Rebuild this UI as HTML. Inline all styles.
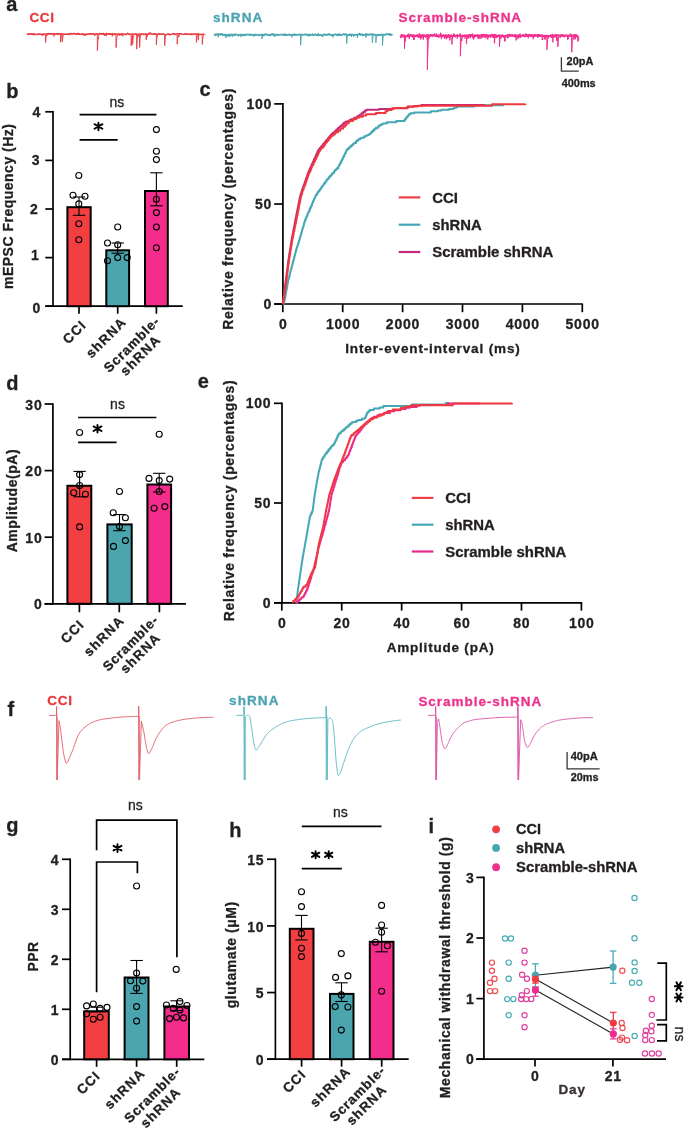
<!DOCTYPE html>
<html><head><meta charset="utf-8"><style>
html,body{margin:0;padding:0;background:#fff;}
svg{display:block;font-family:"Liberation Sans",sans-serif;will-change:transform;}
</style></head><body>
<svg width="685" height="1128" viewBox="0 0 685 1128">
<rect width="685" height="1128" fill="#fff"/>
<text x="6.2" y="11.4" font-size="20" font-weight="bold" fill="#231f20" text-anchor="start" stroke="#231f20" stroke-width="0.3" >a</text>
<text x="29.4" y="22.3" font-size="13.5" font-weight="bold" fill="#e8383d" text-anchor="start" stroke="#e8383d" stroke-width="0.3" textLength="24.6" lengthAdjust="spacing" >CCI</text>
<text x="213" y="22.3" font-size="13.5" font-weight="bold" fill="#4aa3b0" text-anchor="start" stroke="#4aa3b0" stroke-width="0.3" textLength="49.2" lengthAdjust="spacing" >shRNA</text>
<text x="398.5" y="22.3" font-size="13.5" font-weight="bold" fill="#ec338c" text-anchor="start" stroke="#ec338c" stroke-width="0.3" textLength="122.6" lengthAdjust="spacing" >Scramble-shRNA</text>
<polyline points="27.1,34.13 28.6,34.54 30.1,33.77 31.6,34.45 33.1,34.01 34.6,34.01 36.1,34.76 37.6,34.16 39.1,34.08 40.6,34.36 42.1,34.49 43.6,34.09 45.1,34.31 46.6,33.76 48.1,33.97 49.6,33.95 51.1,33.63 52.6,33.57 54.1,33.53 55.6,34.02 57.1,34.04 58.6,33.99 60.1,34.12 61.6,33.63 63.1,34.07 64.6,34.18 66.1,34.36 67.6,33.8 69.1,33.96 70.6,33.39 72.1,33.92 73.6,33.33 75.1,33.6 76.6,34.49 78.1,33.33 79.6,34.38 81.1,34.21 82.6,33.99 84.1,34.26 85.6,34.28 87.1,34.47 88.6,34.02 90.1,33.89 91.6,33.89 93.1,33.75 94.6,34.08 96.1,33.82 97.6,34.47 99.1,33.45 100.6,33.72 102.1,33.77 103.6,33.37 105.1,34.77 106.6,33.26 108.1,34 109.6,33.92 111.1,34.68 112.6,33.41 114.1,34.48 115.6,33.84 117.1,34.05 118.6,33.87 120.1,34.32 121.6,33.7 123.1,34.07 124.6,34.22 126.1,34.74 127.6,33.26 129.1,34.63 130.6,34.43 132.1,33.93 133.6,34.21 135.1,33.94 136.6,34.68 138.1,34.17 139.6,34.02 141.1,34.02 142.6,34.03 144.1,34.04 145.6,33.79 147.1,34.82 148.6,33.43 150.1,32.84 151.6,34.06 153.1,34.05 154.6,34.23 156.1,34.03 157.6,34.05 159.1,34.22 160.6,34.44 162.1,33.94 163.6,33.97 165.1,34.78 166.6,34.29 168.1,33.76 169.6,34.91 171.1,34.37 172.6,33.89 174.1,33.69 175.6,34.2 177.1,33.81 178.6,33.73 180.1,33.65 181.6,33.92 183.1,34.49 184.6,33.95 186.1,33.59 187.6,34.33 189.1,34.12 190.6,34.4 192.1,34.52 193.6,34.04 195.1,34.05 196.6,34.08 198.1,33.7 199.6,34.33 201.1,34.58 202.6,34.16 204.1,34.02" fill="none" stroke="#e8383d" stroke-width="1.3" stroke-linejoin="round" stroke-linecap="butt"/>
<polyline points="26.6,33.98 26.95,33.75 27.3,33.74 27.65,33.92 28,33.72 28.35,33.9 28.7,33.39 29.05,34.26 29.4,34.12 29.75,33.58 30.1,33.07 30.45,34.1 30.8,34.6 31.15,33.77 31.5,33.88 31.85,33.84 32.2,34.39 32.55,33.69 32.9,34.54 33.25,33.96 33.33,34.52 33.45,35.35 33.6,34.92 33.95,33.89 34.3,34.02 34.65,34.1 35,34.45 35.35,34.24 35.7,33.8 36.05,34.29 36.4,34.55 36.75,34.03 37.1,33.9 37.45,33.92 37.8,34.46 38.15,34.34 38.5,33.68 38.85,34.27 39.2,33.88 39.55,33.76 39.9,34.66 40.25,34.47 40.6,33.77 40.95,34.14 41.3,34.33 41.65,33.81 42,34.05 42.22,34.4 42.34,34.92 42.35,35.83 42.7,35.22 43.05,34.72 43.4,33.69 43.75,34.34 43.91,33.78 44.03,35.12 44.1,35.04 44.45,34.53 44.8,33.92 45.15,33.92 45.38,34.54 45.5,42.74 45.85,38.81 46.2,36.56 46.55,35.08 46.9,35.73 47.25,34.4 47.6,35.2 47.95,33.26 48.3,33.12 48.65,34.56 49,34.39 49.35,33.96 49.7,34.08 50.05,33.24 50.37,33.82 50.4,33.64 50.49,34.77 50.75,34.96 51.1,34.35 51.45,34.38 51.8,33.84 52.15,33.93 52.5,34.16 52.85,33.98 53.2,34.67 53.55,33.71 53.74,34.95 53.86,35.5 53.9,36.29 54.25,34.6 54.6,35.26 54.95,34.37 55.3,34.38 55.65,34.49 56,33.84 56.35,33.64 56.7,33.19 57.05,34.65 57.4,33.79 57.75,33.83 58.1,34.09 58.45,35 58.8,33.32 59.15,34.21 59.5,33.92 59.85,34.34 60.2,33.29 60.48,33.92 60.55,34.48 60.6,42.3 60.9,38.93 61.25,35.76 61.6,35.14 61.95,34.55 62.18,33.8 62.3,41.7 62.65,38.54 63,36.25 63.35,35.05 63.7,35.15 64.05,33.9 64.4,34.46 64.75,34.17 65.1,34.1 65.45,34.34 65.8,34.19 66.15,34.22 66.5,34.22 66.85,34.97 67.2,33.96 67.55,34.56 67.9,34.37 68.14,33.94 68.25,34.46 68.26,34.48 68.6,35.01 68.74,34.03 68.86,35.02 68.95,35.2 69.3,34.95 69.65,34.74 70,34.62 70.35,34.06 70.7,33.7 71.05,34.36 71.4,34.24 71.75,33.67 72.1,34.54 72.45,34.19 72.8,33.67 73.15,34.3 73.5,33.5 73.85,33.71 74.2,34.28 74.55,33.4 74.9,34.12 75.25,33.49 75.6,34.43 75.95,33.77 76.3,34.18 76.65,33.42 77,33.95 77.35,34.53 77.7,34.31 78.05,33.27 78.4,34.52 78.75,34.5 79.1,33.93 79.45,34.74 79.8,33.62 80.15,34.06 80.5,34.6 80.85,34.69 81.07,34.68 81.19,34.24 81.2,33.92 81.55,34.58 81.9,33.61 82.25,34.12 82.6,33.56 82.85,34.6 82.95,34.48 82.97,35.12 83.3,34.51 83.65,34.32 83.81,34.11 83.93,35.72 84,35.47 84.35,34.93 84.7,34.22 85.05,35.11 85.23,34.33 85.35,35.99 85.4,35.83 85.75,34.27 86.1,33.62 86.45,34.8 86.8,33.99 87.15,34.17 87.5,34 87.85,34.17 88.2,33.57 88.55,34.06 88.9,33.89 89.25,34.09 89.6,33.05 89.95,34.47 90.3,34.25 90.65,33.32 91,33.77 91.35,34.11 91.7,34.38 92.05,34.1 92.4,34.72 92.75,34.11 93.1,33.65 93.45,33.8 93.8,34.43 94.15,33.82 94.48,34.48 94.5,34.56 94.6,35.98 94.85,35.53 95.2,34.5 95.55,34.33 95.9,33.95 96.25,33.88 96.6,33.42 96.95,33.86 97.28,33.63 97.3,33.46 97.4,50.67 97.65,44.32 98,38.92 98.23,37.86 98.35,38.7 98.35,38.74 98.7,35.9 99.05,34.46 99.4,34.86 99.75,34.49 100.1,34.55 100.45,34.35 100.8,34.7 101.15,33.99 101.5,34.41 101.85,33.7 102.2,33.06 102.55,33.9 102.9,34.77 103.25,33.35 103.6,34.56 103.95,33.79 104.18,33.92 104.3,35.88 104.3,35.95 104.65,34.53 105,34.59 105.35,34.51 105.7,34.58 106.05,33.81 106.18,34.84 106.3,36.11 106.4,36.13 106.75,33.96 107.1,34.41 107.45,33.38 107.8,34.33 108.15,34.38 108.5,33.6 108.85,33.39 109.2,34.19 109.55,34.38 109.9,33.74 110.25,33.98 110.6,32.96 110.95,33.78 111.3,34.17 111.65,34.17 112,34.81 112.26,33.59 112.35,33.09 112.38,36.23 112.7,34.85 113.05,34.73 113.4,34.67 113.75,34.49 114.1,34.81 114.45,34.74 114.8,33.37 115.15,34.08 115.5,35 115.85,33.92 115.98,34.54 116.1,47.58 116.2,44.96 116.55,40.3 116.9,37.29 117.25,35.34 117.6,35.18 117.95,33.84 118.3,33.94 118.65,34.59 119,34.16 119,33.66 119.12,35.6 119.35,35.07 119.7,35.09 120.05,34.73 120.4,34.08 120.75,33.93 121.03,34.07 121.1,34.02 121.14,35.77 121.45,35.37 121.8,34.98 122.15,34.41 122.5,34.06 122.73,34.55 122.85,35.96 122.85,36.21 123.2,34.34 123.55,34.4 123.9,34.99 124.25,33.76 124.6,33.49 124.95,34.06 125.3,34.87 125.65,34.76 126,33.94 126.35,33.89 126.7,34.05 127.05,33.68 127.4,34.12 127.75,33.97 128.1,33.44 128.45,33.84 128.8,33.98 129.15,33.71 129.5,33.6 129.85,34.51 130.2,34.95 130.55,33.97 130.9,33.91 131.08,34.33 131.2,46 131.25,44.61 131.6,40.12 131.95,36.31 132.3,35.1 132.48,34.73 132.6,44.43 132.65,43.7 133,39.18 133.35,37.14 133.7,35.59 134.05,34.71 134.4,33.83 134.75,34.22 135.1,33.75 135.45,34.09 135.8,34.56 136.15,34.2 136.5,34.01 136.58,33.76 136.7,49.09 136.85,45.26 137.2,39.2 137.55,36.61 137.9,35.86 137.96,34.55 138.08,36.7 138.25,35.58 138.6,35.79 138.95,34.87 139.3,34.58 139.48,34.45 139.6,47.36 139.65,46.12 140,39.29 140.35,37.15 140.7,35.82 141.05,34.18 141.4,34.83 141.75,34.58 142.1,33.5 142.45,33.93 142.8,33.98 143.15,33.87 143.23,34.29 143.35,35.12 143.5,35.18 143.85,34.79 144.2,34.72 144.55,34.27 144.9,34.06 145.25,34.45 145.6,33.22 145.69,34.53 145.81,35.25 145.95,34.51 146.08,34.65 146.2,39.86 146.3,38.57 146.65,36.63 146.79,35.77 146.91,37.21 147,36.02 147.35,34.67 147.7,34.24 148.05,35.16 148.4,34.25 148.75,33.89 148.83,33.71 148.95,34.39 149.1,34.61 149.45,34.58 149.8,34.76 150.15,34.69 150.5,34.26 150.85,33.82 151.2,33.72 151.55,33.06 151.9,33.64 152.25,34.29 152.6,33.95 152.95,34.27 153.3,33.49 153.65,34.5 154,34.23 154.35,34.12 154.7,34.28 155.05,33.09 155.4,33.85 155.75,33.7 156.1,34.92 156.28,34.02 156.4,44.87 156.45,44.44 156.8,38.57 157.15,37.19 157.5,35 157.85,34.68 158.2,33.99 158.55,34.61 158.9,33.2 159.25,34.45 159.6,33.75 159.95,34.13 160.3,33.59 160.65,34.21 161,34.19 161.35,34.37 161.7,34.24 162.05,34.38 162.4,34.55 162.75,33.92 163.1,33.57 163.45,33.53 163.8,34.41 164.15,33.93 164.5,34.57 164.58,34.12 164.7,45.64 164.85,43.4 165.2,39.39 165.55,36.21 165.9,34.77 166.25,34.26 166.46,34.86 166.58,34.85 166.6,34.89 166.95,34.89 167.3,34.35 167.65,34.27 168,33.91 168.35,33.84 168.7,34.19 169.05,34.18 169.4,34.37 169.75,33.88 170.1,34.26 170.45,34.31 170.8,34.14 171.15,34.36 171.5,34.56 171.85,34.19 172.2,34.14 172.55,33.66 172.9,34.25 173.25,34.06 173.6,33.96 173.95,33.73 174.3,34.36 174.65,35.25 175,34.29 175.35,34.14 175.7,34.3 176.05,33.83 176.4,34.14 176.75,33.8 177.08,33.81 177.1,34.2 177.2,44.2 177.45,40.11 177.8,36.75 178.15,35.71 178.19,34.98 178.31,37.1 178.5,35.78 178.85,35.01 178.85,35.35 178.97,36.34 179.2,34.79 179.55,34.62 179.9,34.58 180.25,33.77 180.6,33.1 180.95,34.11 181.3,34.1 181.65,34.3 182,34.14 182.35,34.16 182.7,34.21 183.05,34.72 183.4,34.32 183.75,34.34 184.1,33.92 184.45,34.61 184.8,34.02 185.15,34.43 185.5,33.15 185.85,34.21 186.2,34.06 186.55,33.89 186.9,34.68 187.25,34.28 187.6,34.04 187.95,33.86 188.3,34.94 188.65,34.44 189,34.4 189.35,33.76 189.7,34.69 190.05,34.35 190.4,33.98 190.75,34.05 191.1,33.37 191.45,34.39 191.8,33.61 192.15,34.48 192.5,33.9 192.85,33.82 193.2,34.27 193.55,34.19 193.9,33.59 194.25,34.07 194.6,34.37 194.95,33.99 195.3,33.5 195.65,33.99 196,33.67 196.28,33.84 196.35,34.12 196.4,42.38 196.7,38.56 197.05,35.62 197.4,35.38 197.75,34.57 198.1,34.19 198.18,34.41 198.3,40.15 198.45,37.36 198.8,35.29 199.15,35.39 199.5,34.22 199.85,34.92 200.2,33.77 200.55,33.94 200.9,34.5 201.25,34.52 201.6,34.31 201.95,34.31 202.18,34.04 202.3,44.4 202.65,39.22 203,37.26 203.35,35.7 203.7,34.75 204.05,34.56 204.4,34.63 204.75,34.71 205.1,34.08 205.45,34.08" fill="none" stroke="#e8383d" stroke-width="0.9" stroke-linejoin="round" stroke-linecap="butt"/>
<polyline points="214.3,34.29 215.8,34.3 217.3,34.93 218.8,33.9 220.3,34.65 221.8,33.91 223.3,35.09 224.8,34.77 226.3,35.17 227.8,34.52 229.3,34.84 230.8,34.6 232.3,34.44 233.8,34.75 235.3,34.26 236.8,34.58 238.3,34.94 239.8,34.72 241.3,34.56 242.8,35.47 244.3,34.72 245.8,34.49 247.3,34.76 248.8,34.52 250.3,34.57 251.8,34.58 253.3,35.41 254.8,34.71 256.3,34.76 257.8,34.94 259.3,35.41 260.8,34.62 262.3,34.48 263.8,35.57 265.3,34.19 266.8,34.57 268.3,34.93 269.8,35.5 271.3,34.37 272.8,33.85 274.3,34.93 275.8,34.52 277.3,34.56 278.8,34.86 280.3,34.78 281.8,34.8 283.3,34.55 284.8,35.15 286.3,35.23 287.8,34.71 289.3,34.54 290.8,34.96 292.3,34.87 293.8,34.34 295.3,34.54 296.8,35.07 298.3,34.67 299.8,34.58 301.3,34.77 302.8,34.69 304.3,34.7 305.8,34.02 307.3,35.31 308.8,34.77 310.3,34.39 311.8,35.04 313.3,34.81 314.8,34.71 316.3,35.07 317.8,35.49 319.3,34.89 320.8,35.25 322.3,35.46 323.8,34.34 325.3,34.52 326.8,34.97 328.3,34.1 329.8,34.61 331.3,35.15 332.8,35.07 334.3,34.9 335.8,34.04 337.3,35.52 338.8,34.89 340.3,34.97 341.8,34.87 343.3,34.1 344.8,34.2 346.3,34.27 347.8,35.37 349.3,34.41 350.8,34.62 352.3,34.61 353.8,34.9 355.3,34.88 356.8,34.79 358.3,34.26 359.8,33.6 361.3,34.76 362.8,34.79 364.3,35.13 365.8,34.66 367.3,34.49 368.8,34.84 370.3,34.16 371.8,34.34 373.3,34.35 374.8,34.8 376.3,35.43 377.8,34.97 379.3,35.1 380.8,34.78 382.3,34.8 383.8,34.54 385.3,34.6 386.8,33.85 388.3,34.28 389.8,34.25 391.3,34.99" fill="none" stroke="#4aa6b1" stroke-width="1.6" stroke-linejoin="round" stroke-linecap="butt"/>
<polyline points="213.8,35.1 214.1,35.39 214.4,35.63 214.7,34.52 215,35.33 215.3,35.87 215.6,34.69 215.9,35.35 216.2,34.6 216.5,33.73 216.8,34.77 217.1,34.21 217.4,34.77 217.7,34.42 218,34.89 218.07,33.42 218.19,37.34 218.3,36.64 218.6,35.1 218.9,34.49 219.2,34.89 219.5,35.21 219.8,35.01 220.1,34.97 220.4,33.54 220.7,34.03 221,35.51 221.3,34.85 221.6,33.79 221.9,34.18 222.2,33.83 222.5,34.09 222.8,35.41 223.1,34.57 223.4,35.38 223.7,34.81 224,33.79 224.3,34.31 224.6,36.09 224.9,34.23 225.2,34.06 225.5,35.45 225.8,34.75 225.89,34.7 226.01,38.01 226.1,35.65 226.4,36.07 226.7,34.67 227,34.18 227.3,34.39 227.6,35.51 227.76,34.69 227.88,35.74 227.9,36.11 228.2,36.78 228.5,35.96 228.8,34.38 229.1,36.38 229.4,34.58 229.7,34.03 229.8,34.66 229.92,36.39 230,36.64 230.3,35.85 230.6,34.72 230.9,34.51 231.2,33.89 231.5,34.7 231.8,34.36 231.94,34.87 232.06,36.02 232.1,36.32 232.4,35.22 232.7,34.54 232.74,34.51 232.86,36.42 233,35.74 233.3,36.02 233.6,35.29 233.9,34.18 234.2,35.18 234.5,34.96 234.8,35.64 234.9,34.62 235.02,35.69 235.1,35.24 235.4,35.3 235.7,35.29 236,34.97 236.3,34.63 236.6,35.09 236.9,34.78 237.2,34.87 237.5,34.13 237.71,34.83 237.8,34.09 237.83,35.64 238.1,35.66 238.4,36.46 238.7,35.57 239,34.84 239.3,34.67 239.6,35.35 239.9,35.57 240.2,35.46 240.5,34.59 240.8,34.82 240.8,34.5 240.92,36.82 241.1,35.78 241.4,35.43 241.7,33.86 242,34.23 242.3,35.11 242.6,34.21 242.9,35.08 243.2,33.93 243.5,34.49 243.8,34.95 244.1,34.07 244.4,34.26 244.7,36.22 245,34.28 245.3,34.27 245.6,34.35 245.9,34.72 246.2,34.68 246.5,35.3 246.8,35.19 247.1,34.45 247.4,34.48 247.7,33.83 248,33.78 248.3,34.25 248.6,35.15 248.9,34.77 249.2,35.19 249.5,35.28 249.8,34.6 250.1,35.99 250.4,34.38 250.7,34.32 251,34.44 251.3,35.4 251.6,34.62 251.9,34.25 252.2,34.97 252.5,35.39 252.8,34.63 253.1,34.55 253.4,35.37 253.45,35.3 253.57,36.47 253.7,35.15 254,35.38 254.3,35.2 254.6,33.75 254.9,35.52 255.2,34.81 255.5,34.52 255.8,36.1 256.1,34.8 256.4,34.26 256.7,34.66 257,35.05 257.3,35.2 257.6,34.67 257.9,34.17 258.2,34.27 258.5,34.2 258.8,34.06 259.1,34.69 259.4,34.4 259.7,34.73 260,34.19 260.3,34.17 260.6,34.59 260.9,34.49 261.2,35.41 261.5,34.15 261.78,34.83 261.8,34.67 261.9,38.9 262.1,38.5 262.4,36.64 262.7,34.42 263,35.62 263.3,35.58 263.6,34.38 263.9,35.83 264.2,34.85 264.5,34.02 264.8,35.06 265.1,34.49 265.4,33.89 265.7,33.39 266,34.85 266.3,34.25 266.6,35.09 266.9,34.94 267.2,34.38 267.5,34.38 267.8,35.78 268.1,35.74 268.4,35.16 268.7,34.48 269,34.1 269.3,34.46 269.6,35.72 269.9,34.98 270.2,34.52 270.5,33.95 270.8,34.8 271.1,34.16 271.4,34.71 271.7,35.15 272,35.35 272.3,34.79 272.6,34.49 272.9,34.84 273.2,35.8 273.5,34.93 273.8,33.84 274.1,35.65 274.4,34.85 274.7,36.83 275,34.41 275.3,34.64 275.5,34.52 275.6,34.93 275.62,36.19 275.9,34.85 276.2,34.1 276.5,34.94 276.8,34.56 277.1,34.44 277.4,36.05 277.7,35.21 278,35.38 278.3,34.4 278.6,34.89 278.9,34.57 279.2,34.58 279.5,35.16 279.8,35.07 280.1,34.89 280.4,34.79 280.7,33.82 281,34.25 281.3,34.93 281.6,34.48 281.9,34.23 282.2,34.92 282.5,34.14 282.8,34.29 283.1,35.24 283.4,34.48 283.7,35.57 284,35.02 284.3,35.19 284.6,35.39 284.9,33.38 285.2,34.65 285.5,33.91 285.8,34.42 286.1,34.64 286.4,35.46 286.7,34.67 287,35.7 287.3,34.38 287.6,34.67 287.9,34.76 288.2,35.28 288.5,34.67 288.8,34.32 289.1,34.5 289.4,33.85 289.7,35.47 290,35.15 290.3,34.96 290.6,34.87 290.9,34.33 291.2,34.45 291.5,35.19 291.56,34.22 291.68,36.41 291.8,37.39 292.1,36.6 292.4,35.4 292.7,35.31 293,34.97 293.3,35.65 293.6,34.48 293.9,34.78 294.2,35.01 294.5,35.58 294.8,34.55 295.1,34.84 295.29,34.4 295.4,34.3 295.41,35.53 295.7,35.44 296,35.62 296.3,34.49 296.6,34.45 296.9,34.52 297.2,34.95 297.5,35.14 297.8,33.95 298.1,34.92 298.4,34.1 298.7,35.13 299,34.12 299.3,34.05 299.6,34.27 299.9,34.66 300.2,34.1 300.48,34.83 300.5,34.79 300.6,45.25 300.8,41.9 301.1,39.09 301.4,36.38 301.7,35.86 302,35.32 302.3,33.81 302.6,35.13 302.9,34.34 303.2,34.32 303.5,34.46 303.8,34.78 304.1,34.91 304.4,35 304.7,34.29 305,35.12 305.3,34.95 305.6,34.47 305.9,34.69 306.2,35.18 306.5,34.96 306.8,35.12 307.1,34.76 307.4,35.39 307.7,36.04 308,34.97 308.3,33.74 308.55,35.74 308.6,34.36 308.67,36.37 308.9,34.85 309.2,35.82 309.5,35.83 309.8,35.56 310.1,34.61 310.4,35.65 310.7,34.7 311,34.37 311.3,34.75 311.6,34.84 311.9,34.73 312.2,34.94 312.5,33.39 312.8,35.64 313.1,34.36 313.4,35.09 313.45,34.22 313.57,35.79 313.7,35.36 314,34.17 314.3,35.16 314.6,35.21 314.9,34.1 315.2,33.48 315.5,34.33 315.8,34.21 316.1,34.77 316.4,34.69 316.7,35.67 317,35.09 317.3,34.55 317.6,34.8 317.9,32.97 318.2,34.16 318.5,34.15 318.8,34.63 319.1,34.89 319.4,34.83 319.7,35.26 320,34.29 320.3,34.88 320.6,34.62 320.9,34.71 321.2,34.89 321.5,34.53 321.8,34.83 322.1,34.68 322.11,35.31 322.23,36.73 322.4,36.39 322.7,37.08 323,35.53 323.3,35.26 323.6,35.48 323.9,34.17 324.2,35.17 324.5,35.17 324.8,34.98 325.1,35.29 325.4,35.17 325.7,35.42 326,34.32 326.3,34.96 326.6,34.37 326.9,35.44 327.2,34.78 327.5,33.92 327.8,34.77 328.1,34.1 328.4,35.29 328.7,34.5 329,33.39 329.3,34.47 329.6,35.31 329.9,34.9 330.2,34.32 330.5,35.09 330.8,35.04 331.1,35.58 331.4,35.24 331.7,34.92 332,34.23 332.3,34.87 332.6,34.88 332.7,34.71 332.82,37.41 332.9,36.11 333.2,36.2 333.5,35.34 333.8,35.26 334.1,34.83 334.4,34.63 334.7,34.91 335,35.2 335.3,34.53 335.6,34.9 335.9,34.25 336.2,34.95 336.5,34.71 336.8,33.94 337.1,35.39 337.4,34.17 337.7,34.75 338,33.92 338.3,33.67 338.6,35.09 338.9,33.86 339.2,33.46 339.5,34.57 339.8,33.78 340.1,34.58 340.4,35.79 340.7,34.47 341,34.91 341.3,35.03 341.6,34.85 341.9,34.63 342.2,35.6 342.5,34.65 342.8,34.91 343.1,34.77 343.4,33.94 343.7,34.89 344,34.73 344.3,35.09 344.6,35.11 344.9,35.63 345.2,33.57 345.5,34.37 345.8,34.42 346.1,34.19 346.4,34.95 346.58,34.65 346.7,43.58 347,38.56 347.3,36.78 347.6,36.12 347.9,35.23 348.2,34.78 348.5,34.87 348.8,34.67 349.1,34.14 349.4,35.73 349.7,34.32 350,35.1 350.3,35.06 350.6,35.28 350.9,34.36 351.2,34.11 351.31,34.96 351.43,36.91 351.5,35.07 351.8,34.12 352.1,34.91 352.4,34.76 352.7,34.7 353,35.03 353.3,34.17 353.6,36.3 353.8,35.25 353.9,35.48 353.92,36.58 354.2,34.45 354.5,35.38 354.8,34.67 355.1,35.12 355.4,34.72 355.7,35.15 356,34.21 356.3,34.5 356.6,34.71 356.9,34.26 357.2,34.43 357.31,35.07 357.43,37.94 357.5,36.4 357.8,36.19 358.1,34.58 358.4,34.73 358.7,35.06 359,35.13 359.3,34.14 359.6,35.08 359.9,34.8 360.2,35.48 360.5,35.26 360.8,35.03 361.1,34.47 361.4,34.86 361.7,34.19 362,34.21 362.23,33.61 362.3,33.93 362.35,36.15 362.6,35.98 362.9,35.5 363.2,34.31 363.5,34.86 363.8,35.06 364.1,35.31 364.4,34.68 364.7,34.85 365,34.49 365.3,35.25 365.6,33.78 365.86,34.84 365.9,33.33 365.98,37.51 366.2,36.4 366.5,34.09 366.8,34.73 367.1,34.05 367.4,33.76 367.7,34.51 368,34.21 368.3,35.33 368.6,34.4 368.9,34.05 369.2,34.65 369.5,34.94 369.8,35.18 370.1,34.99 370.4,33.81 370.7,34.21 371,34.59 371.3,34.2 371.6,35.13 371.9,34.49 372.18,34.65 372.2,34.47 372.3,42.72 372.5,39.17 372.8,38.88 373.1,35.97 373.4,35.15 373.7,34.13 374,34.91 374.3,34.02 374.6,34.97 374.9,35.44 375.2,35.08 375.5,34.44 375.78,35.45 375.8,34.59 375.9,42.67 376.1,40.1 376.4,37.36 376.7,36.56 377,34.85 377.3,34.13 377.6,35.67 377.9,34.4 378.2,34.56 378.5,34.93 378.8,34.44 379.1,34.01 379.4,34.58 379.7,34.14 380,35.02 380.3,34.43 380.6,34.54 380.9,35.15 381.2,33.78 381.5,33.81 381.8,35.12 382.1,35.44 382.38,34.74 382.4,34.27 382.41,35.42 382.5,43.8 382.53,45.7 382.7,41.05 383,38.69 383.3,36.32 383.6,35.27 383.9,35.71 384.2,35.49 384.5,34.62 384.8,34.65 385.1,35.56 385.4,35.11 385.7,34.64 386,35 386.3,34.76 386.6,33.95 386.9,34.39 387.2,34.86 387.5,35.06 387.8,33.98 388.1,34.22 388.4,34.34 388.7,33.8 389,35.34 389.3,34.96 389.6,35.46 389.9,33.4 390.2,34.21 390.5,35.76 390.8,33.86 391.1,33.62 391.4,34.82 391.7,35.62 392,35.07 392.3,34.13 392.6,35.02" fill="none" stroke="#4aa6b1" stroke-width="0.95" stroke-linejoin="round" stroke-linecap="butt"/>
<polyline points="400.6,35.27 402.1,35.68 403.6,36.05 405.1,36.14 406.6,36.01 408.1,35.62 409.6,35.72 411.1,35.51 412.6,35.14 414.1,35.44 415.6,35.93 417.1,35.69 418.6,35.49 420.1,35.23 421.6,35.57 423.1,35.4 424.6,35.61 426.1,35.77 427.6,34.81 429.1,35.57 430.6,35.09 432.1,35.28 433.6,35.17 435.1,35.99 436.6,35.83 438.1,35.77 439.6,35.34 441.1,35.1 442.6,35.47 444.1,35.67 445.6,35.57 447.1,35.84 448.6,35.48 450.1,36.23 451.6,35.83 453.1,36.29 454.6,35.69 456.1,35.52 457.6,35.31 459.1,35.88 460.6,35.96 462.1,35.65 463.6,35.74 465.1,35.51 466.6,35.45 468.1,35.5 469.6,34.95 471.1,35.25 472.6,35.61 474.1,35.64 475.6,35.98 477.1,35.82 478.6,35.75 480.1,35.62 481.6,34.81 483.1,35.62 484.6,35.29 486.1,35.77 487.6,35.5 489.1,35.48 490.6,35.41 492.1,35.5 493.6,34.92 495.1,35.04 496.6,36.02 498.1,35.75 499.6,35.44 501.1,35.48 502.6,35.47 504.1,36.73 505.6,35.78 507.1,35.6 508.6,35.36 510.1,34.77 511.6,35.64 513.1,36.08 514.6,35.92 516.1,35.69 517.6,35.39 519.1,35.18 520.6,35.62 522.1,35.45 523.6,35.2 525.1,36.17 526.6,35.27 528.1,35.41 529.6,34.76 531.1,36.19 532.6,35.54 534.1,35.57 535.6,35.7 537.1,35.3 538.6,35.38 540.1,35.7 541.6,35.31 543.1,35.71 544.6,36.02 546.1,35.86 547.6,36.09 549.1,35.97 550.6,36.2 552.1,35.7 553.6,35.75 555.1,35.22 556.6,35.53 558.1,35.34 559.6,35.57 561.1,35.23 562.6,35.71 564.1,36.5 565.6,35.33 567.1,35.8 568.6,35.81 570.1,35.34 571.6,35.49 573.1,35.41 574.6,35.75 576.1,35.37 577.6,36.5" fill="none" stroke="#f2308f" stroke-width="2.0" stroke-linejoin="round" stroke-linecap="butt"/>
<polyline points="400.1,36.45 400.35,36.73 400.6,37.74 400.82,36.96 400.85,35.48 400.94,38.1 401.1,37.18 401.35,36.8 401.6,37.13 401.85,33.96 402.1,34.13 402.35,35.39 402.6,36.11 402.85,35.14 403.1,35.42 403.2,36.71 403.32,37.53 403.35,36.67 403.6,35.97 403.85,34.55 404.1,36.33 404.35,35.85 404.38,34.77 404.5,48.68 404.6,45.54 404.85,41.5 405.1,37.72 405.29,39.06 405.35,37.11 405.41,41.29 405.6,39.49 405.85,37.24 406.1,36.85 406.35,36.14 406.6,35.8 406.85,36.04 407.1,35.09 407.35,36.33 407.6,35.72 407.77,34.42 407.85,35.99 407.89,37.46 408.1,37.53 408.35,34.13 408.6,36.44 408.85,33.62 409.1,35.28 409.35,38.83 409.6,36.24 409.85,36.61 410.1,34.82 410.35,34.39 410.6,35.43 410.85,35.92 411.1,35.41 411.35,34.82 411.6,34.62 411.85,35.1 412.1,37.13 412.35,35.51 412.45,35.14 412.57,37.38 412.6,36.56 412.85,35.4 413.1,36.43 413.35,37.33 413.42,36.44 413.54,37.57 413.6,40.07 413.85,37.64 413.96,38.89 414.08,39.78 414.1,38.44 414.35,38.36 414.6,36.97 414.85,35.41 415.1,35.38 415.35,35.5 415.6,34.89 415.85,36.32 416.1,35.95 416.35,35.15 416.6,35.23 416.85,36.48 417.1,35.98 417.35,34.39 417.6,35.83 417.85,37.31 418.1,35.88 418.35,34.72 418.6,37.11 418.85,38.08 419.1,35.73 419.35,33.29 419.6,34.13 419.85,37.48 420.1,35.44 420.35,36.33 420.42,36.17 420.54,38.17 420.6,39.41 420.85,37.11 421.1,37.03 421.35,36.45 421.6,36.21 421.85,38.3 422.1,34.67 422.35,34.52 422.6,36.82 422.6,34.45 422.71,37.04 422.85,35.54 423.1,37.19 423.17,36.15 423.29,39.68 423.35,37.85 423.6,37.29 423.85,34.44 424.1,37.14 424.35,36.46 424.6,35.9 424.85,35.85 425.1,35.36 425.35,35.64 425.6,37.59 425.85,35.06 426.1,35.18 426.35,36.36 426.6,35.89 426.85,35.05 427.08,37.31 427.1,37.34 427.2,37.89 427.28,39.66 427.35,36.16 427.4,69.92 427.52,59.61 427.6,57.96 427.64,58.44 427.85,50.45 428.1,45.48 428.35,40.25 428.6,38.27 428.85,36.56 429.1,38.41 429.35,35.8 429.6,36.46 429.85,35.69 430.1,36.87 430.35,34.71 430.6,34.83 430.85,35.04 431.1,35.86 431.35,34.89 431.6,36.12 431.85,36.2 432.1,36.7 432.35,36.2 432.6,37.06 432.85,35.31 433.1,35.14 433.35,34.96 433.6,34.96 433.85,34.31 434.1,36.05 434.35,35.75 434.6,33.53 434.85,35.53 435.1,34.91 435.35,34.73 435.6,35.36 435.85,36.86 436.1,35.75 436.35,33.63 436.6,35.97 436.85,34.75 437.1,37.29 437.35,35.14 437.6,35.56 437.85,35.43 438.1,34.8 438.35,35.22 438.6,35.52 438.85,37.85 439.1,35.75 439.35,36.15 439.6,35.75 439.85,35.83 440.1,35.98 440.35,37.07 440.6,32.68 440.85,35.01 441.1,34.79 441.13,36.51 441.25,38.01 441.35,39.21 441.6,38.32 441.85,36.05 442.1,36.79 442.35,35.53 442.6,36.7 442.85,36.3 443.1,36.93 443.35,36.53 443.6,34.67 443.85,37.13 444.1,35.7 444.35,36.74 444.42,35.75 444.54,38.72 444.6,36.34 444.85,38.14 445.1,35.37 445.35,35.94 445.6,36.4 445.85,34.31 446.07,36.15 446.1,35.79 446.19,37.95 446.19,37.04 446.31,39.23 446.35,38.83 446.6,37.43 446.85,37.37 447.1,36.45 447.35,36.85 447.6,37.55 447.71,35.66 447.83,37.4 447.85,38.17 448.1,37.39 448.35,34.3 448.6,35.49 448.85,36.03 449.1,36.43 449.35,35.29 449.6,34.7 449.7,37.77 449.82,36.05 449.85,40.33 450.1,36.96 450.35,36.45 450.6,36.34 450.85,36.4 451.1,34.93 451.35,34.39 451.6,36.02 451.78,36.91 451.85,35.37 451.9,44.4 452.1,38.72 452.35,39.07 452.6,37.69 452.85,37.89 453.1,35.09 453.35,36.59 453.6,35.69 453.85,33.45 454.1,35.23 454.35,34.21 454.6,35.26 454.85,36.23 455.1,35.51 455.35,37.45 455.6,36.29 455.85,35.02 456.1,35.28 456.35,36 456.6,34.89 456.85,36.18 457.06,36.21 457.1,36.59 457.18,38.55 457.35,37.75 457.6,35.7 457.85,36.6 458.1,35.97 458.35,36.12 458.6,36.25 458.85,35.1 459.1,35.36 459.35,35.03 459.6,34.57 459.85,33.93 460.1,34.67 460.28,36.17 460.35,33.41 460.4,56.17 460.6,49.81 460.85,44.71 461.1,40.29 461.35,38.34 461.6,38.53 461.66,38.03 461.78,40.94 461.85,38.42 462.1,37.15 462.35,37.93 462.6,36.02 462.85,35.99 463.1,37.23 463.35,36.63 463.6,35.41 463.85,36.32 464.1,35.69 464.35,36.77 464.6,36.05 464.8,34.87 464.85,37.42 464.92,38.64 465.1,37.85 465.35,36.36 465.6,36.48 465.85,35.8 466.1,36.55 466.35,36.39 466.38,37.04 466.5,44.11 466.6,41.47 466.85,38.82 467.1,37.22 467.35,38.09 467.6,35.8 467.85,37.73 468.08,36.23 468.1,35.99 468.2,37.28 468.35,38.51 468.6,36.45 468.85,35.74 469.1,34.91 469.35,34.27 469.6,35.13 469.85,37.04 469.95,36.36 470.07,37.48 470.1,35.66 470.35,38.25 470.6,36.95 470.85,34.2 471.1,35.82 471.35,34.83 471.6,36.83 471.85,36.41 472.1,35.09 472.35,33.52 472.6,35.41 472.85,38.25 473.1,36.18 473.3,35.18 473.35,36.62 473.42,38.51 473.6,39.65 473.85,35.38 474.1,36.11 474.35,37.75 474.6,37.16 474.85,36.44 475.1,34.35 475.35,35.8 475.6,36.41 475.85,35.28 476.1,35.72 476.35,36.59 476.6,35.31 476.85,36.21 477.1,35.42 477.35,34.53 477.6,34.17 477.85,34.96 477.88,34.77 478,38.71 478.1,37.39 478.35,34.75 478.6,37.74 478.85,38.44 479.1,35.41 479.35,36.34 479.6,35.61 479.83,36.47 479.85,35.8 479.95,39.09 480.1,37.85 480.35,36.35 480.6,36.1 480.85,35.34 481.1,35.27 481.35,35.38 481.6,38.32 481.85,36.47 482.1,37.55 482.35,34.17 482.6,35.37 482.85,36.63 483.1,36.91 483.35,36.11 483.6,35.18 483.85,34.17 484.07,35.85 484.1,33.95 484.19,37.77 484.35,36.45 484.6,35.76 484.85,35.39 485.1,34.35 485.35,34.49 485.59,36.02 485.6,34.96 485.71,37.37 485.85,38.44 486.1,37.34 486.35,36.61 486.6,34.46 486.85,36.89 487.1,36.27 487.35,34.65 487.6,35.01 487.63,36.51 487.75,39.48 487.85,37.44 488.1,35.79 488.35,37.64 488.6,35.61 488.85,36.72 489.1,35.85 489.35,35.59 489.6,35.28 489.85,37.15 490.1,35.29 490.35,35.67 490.6,35 490.85,37.64 491.1,35.69 491.35,34.52 491.6,35.53 491.85,33.9 492.1,35.4 492.35,34.4 492.6,36.84 492.85,37.07 493.1,37.98 493.35,35.31 493.42,34.77 493.54,35.6 493.6,37.71 493.85,35.99 494.1,37.65 494.28,38.21 494.35,34.63 494.4,43.4 494.6,42.65 494.85,37.39 495.1,36.39 495.35,37.71 495.6,36.75 495.85,34.28 496.01,36.46 496.1,35.58 496.13,37.43 496.35,37.21 496.6,38.11 496.85,36.98 497.1,34.98 497.35,37.26 497.6,36.52 497.85,36.21 498.1,35.02 498.35,34.8 498.6,35.71 498.85,37.14 499.1,36.14 499.35,35.83 499.38,35.96 499.5,46.98 499.6,44.37 499.85,41.18 500.1,37.08 500.35,37.61 500.6,37.78 500.85,36.6 501.05,37.64 501.1,37.68 501.17,38.46 501.35,36.54 501.6,36.98 501.85,35.08 502.1,36.95 502.35,35.8 502.6,36.52 502.85,35.45 503.1,34.94 503.35,37.25 503.6,35.51 503.83,35.7 503.85,35.8 503.95,37.02 504.1,36.68 504.12,35.59 504.24,38.28 504.35,38.09 504.48,36.32 504.6,41.14 504.85,39.5 505.03,39.29 505.1,38.96 505.15,41.29 505.35,38.3 505.6,38.15 505.85,36.74 506.1,37.22 506.35,36.57 506.6,34.96 506.85,35.99 507.1,35.91 507.35,36.74 507.6,37.49 507.61,34.18 507.73,38.22 507.85,37.52 508.1,36.59 508.35,36.22 508.6,37.79 508.85,36.62 509.1,35.74 509.35,36.31 509.6,35.89 509.85,35.18 510.1,35.68 510.35,36.19 510.6,36.79 510.85,34.66 511.1,35.77 511.35,35.95 511.6,36.04 511.85,35.31 512.1,35.26 512.35,34.11 512.6,34.63 512.85,35 513.1,34.9 513.35,36.01 513.6,35.25 513.85,35.15 514.1,34.83 514.35,35.71 514.6,34.18 514.85,37.15 515.1,34.29 515.35,35.01 515.58,35.57 515.6,35.56 515.7,37.69 515.85,34.84 516.08,36.35 516.1,35.13 516.2,40.38 516.35,36.15 516.6,37.03 516.85,37.12 517.1,36.06 517.35,36.11 517.6,35.85 517.75,36.17 517.85,36.73 517.87,38.86 518.1,38.77 518.35,36.87 518.6,37.28 518.85,34.78 519.1,37.4 519.35,36.29 519.53,36.38 519.6,37.38 519.65,36.49 519.85,35.72 520.1,33.69 520.35,37.11 520.6,36.38 520.85,37.82 521.1,35.82 521.35,36.08 521.6,35.69 521.85,35.89 522.1,35.92 522.35,35.05 522.6,34.89 522.85,35.25 523.1,34.5 523.35,36.96 523.6,34.85 523.85,35.36 524.1,35.58 524.35,35.04 524.6,37.09 524.85,35.99 525.1,36.62 525.35,34.24 525.6,34.85 525.85,33.41 526.1,36.76 526.35,35.02 526.6,36.18 526.85,36.78 527.1,34.19 527.35,36.3 527.6,35.37 527.85,35.92 528.1,35.79 528.17,36.12 528.29,38.3 528.35,36.63 528.6,36.29 528.85,36.36 529.1,36.02 529.35,34.86 529.6,35.15 529.85,35.75 530.1,36.76 530.35,35.63 530.6,34.96 530.85,35.74 531.1,34.54 531.35,35.97 531.6,34.13 531.85,36.35 532.1,34.89 532.35,36.8 532.6,35.34 532.85,35.13 532.97,35.77 533.09,38.02 533.1,38.2 533.35,39.12 533.6,37.18 533.85,36.75 534.1,33.9 534.35,37.08 534.6,36.42 534.85,35.54 535.1,34.46 535.35,34.17 535.6,34.75 535.85,35.53 536.1,35.83 536.35,35.92 536.6,35.9 536.85,35.69 537.1,35.38 537.35,34.28 537.6,37.74 537.85,36.56 538.1,36.63 538.35,35.51 538.6,34.28 538.85,37.15 539.1,34.76 539.35,34.17 539.6,36.27 539.85,37.07 540.1,35.28 540.35,35.72 540.6,36.35 540.85,35.83 541.1,35.68 541.35,36.39 541.6,36.46 541.85,35.07 542.02,35.72 542.1,36.05 542.14,39.75 542.23,38.61 542.35,38.53 542.36,39.03 542.48,40.09 542.6,39.73 542.85,39.29 543.1,37.29 543.35,36.89 543.6,36.7 543.85,35.96 544.1,34.75 544.35,34.94 544.43,36.7 544.55,38.32 544.6,36.78 544.74,39.08 544.85,36.67 544.86,37.25 545.1,39.51 545.35,37.35 545.6,36.34 545.85,36.72 546.1,36.53 546.35,35.15 546.6,36.48 546.78,35.04 546.85,34.97 546.9,49.65 547.1,46.19 547.35,44.17 547.6,38.31 547.85,37.26 548.1,37.74 548.35,38.37 548.6,36.01 548.85,36.27 549.1,35.45 549.35,35.46 549.6,36.69 549.85,35.24 550.1,36.67 550.35,36.55 550.6,35.27 550.85,34.72 551.1,35.57 551.12,34.54 551.24,37.49 551.35,37.81 551.6,37.17 551.63,36.82 551.75,35.95 551.85,37.06 552.1,37.27 552.35,37.39 552.6,36.84 552.68,33.88 552.8,42.26 552.85,42.06 553.1,38.69 553.35,36.37 553.6,35.95 553.85,37.08 554.1,35.89 554.35,36.33 554.6,36.18 554.85,37.68 555.1,35.83 555.35,36.79 555.6,35.36 555.85,35.71 556.1,34.14 556.35,35.05 556.46,34.78 556.58,39.53 556.6,38.35 556.82,37.77 556.85,37.6 556.94,40.96 557.1,37.53 557.21,39.57 557.33,38.42 557.35,39.84 557.6,39.03 557.78,36.95 557.85,39.07 557.9,46.82 558.1,42.56 558.35,39 558.6,36.99 558.85,37.64 559.1,36.55 559.35,36.51 559.6,36.56 559.85,35.56 560.1,35.71 560.14,36.24 560.26,37.73 560.35,37.67 560.6,36.41 560.85,36.83 561.1,35.8 561.35,36.46 561.6,35.26 561.85,34.45 562.1,35.56 562.35,35.06 562.6,34.52 562.85,35.56 563.1,35.29 563.35,34.46 563.6,35.35 563.85,35.26 564.1,35.28 564.35,35.49 564.6,35.2 564.85,35.91 565.1,35.69 565.35,36.19 565.6,35.52 565.85,35.46 566.1,35.29 566.35,35.05 566.43,35.17 566.55,35.32 566.6,35.59 566.85,35.62 567.1,34.83 567.3,35.82 567.35,35.75 567.42,37.82 567.54,37.05 567.6,35.05 567.66,39.72 567.85,38.76 568,37.54 568.1,36.24 568.12,38.95 568.35,38.53 568.6,37.35 568.85,36.59 569.1,36.12 569.35,36.37 569.6,35.05 569.85,35.55 570.1,34.93 570.35,35.5 570.6,33.56 570.85,36.97 571.1,35.76 571.35,37.04 571.42,34.67 571.54,39.72 571.6,39.35 571.68,37.86 571.8,52.27 571.85,50.46 572.1,43.91 572.35,41.93 572.6,40.85 572.85,37.96 573.1,36.57 573.35,35.07 573.6,36.31 573.74,37.16 573.85,35.95 573.86,39.44 574.1,37.13 574.35,34.38 574.6,36.36 574.85,37.75 575.1,34.09 575.35,39.24 575.6,37.93 575.85,35.19 576.1,36.46 576.35,36.34 576.6,37.28 576.85,34.67 576.9,35.02 577.02,35.98 577.1,36.99 577.35,35.92 577.6,35.81 577.66,35.89 577.78,38.58 577.85,41.38 578.1,37.92 578.35,38.28 578.55,37.44 578.6,36.45 578.67,38.45 578.72,38.56 578.84,39.69 578.85,40.54 579.1,40.36" fill="none" stroke="#f2308f" stroke-width="1.0" stroke-linejoin="round" stroke-linecap="butt"/>
<polyline points="561.4,57.3 561.4,71.2 578.7,71.2" fill="none" stroke="#3a3434" stroke-width="1.3" stroke-linejoin="miter" stroke-linecap="butt"/>
<text x="566.6" y="65.1" font-size="10.6" font-weight="bold" fill="#231f20" text-anchor="start" stroke="#231f20" stroke-width="0.3" textLength="26.8" lengthAdjust="spacingAndGlyphs" >20pA</text>
<text x="561.7" y="86.5" font-size="10.6" font-weight="bold" fill="#231f20" text-anchor="start" stroke="#231f20" stroke-width="0.3" textLength="34" lengthAdjust="spacingAndGlyphs" >400ms</text>
<text x="6.2" y="98" font-size="20" font-weight="bold" fill="#231f20" text-anchor="start" stroke="#231f20" stroke-width="0.3" >b</text>
<line x1="53" y1="111" x2="53" y2="307" stroke="#000" stroke-width="1.7" stroke-linecap="butt"/>
<line x1="45.3" y1="111.8" x2="53" y2="111.8" stroke="#000" stroke-width="1.7" stroke-linecap="butt"/>
<line x1="45.3" y1="160.4" x2="53" y2="160.4" stroke="#000" stroke-width="1.7" stroke-linecap="butt"/>
<line x1="45.3" y1="209" x2="53" y2="209" stroke="#000" stroke-width="1.7" stroke-linecap="butt"/>
<line x1="45.3" y1="257.6" x2="53" y2="257.6" stroke="#000" stroke-width="1.7" stroke-linecap="butt"/>
<line x1="45.3" y1="306.2" x2="53" y2="306.2" stroke="#000" stroke-width="1.7" stroke-linecap="butt"/>
<line x1="45.3" y1="306.2" x2="182.7" y2="306.2" stroke="#000" stroke-width="1.7" stroke-linecap="butt"/>
<line x1="79" y1="306.2" x2="79" y2="313.7" stroke="#000" stroke-width="1.7" stroke-linecap="butt"/>
<line x1="117.7" y1="306.2" x2="117.7" y2="313.7" stroke="#000" stroke-width="1.7" stroke-linecap="butt"/>
<line x1="156.4" y1="306.2" x2="156.4" y2="313.7" stroke="#000" stroke-width="1.7" stroke-linecap="butt"/>
<text x="40.4" y="116.9" font-size="14" font-weight="bold" fill="#231f20" text-anchor="end" stroke="#231f20" stroke-width="0.3" >4</text>
<text x="39.5" y="165.15" font-size="14" font-weight="bold" fill="#231f20" text-anchor="end" stroke="#231f20" stroke-width="0.3" >3</text>
<text x="37.8" y="213.55" font-size="14" font-weight="bold" fill="#231f20" text-anchor="end" stroke="#231f20" stroke-width="0.3" >2</text>
<text x="38.7" y="260" font-size="14" font-weight="bold" fill="#231f20" text-anchor="end" stroke="#231f20" stroke-width="0.3" >1</text>
<text x="40.3" y="312.9" font-size="14" font-weight="bold" fill="#231f20" text-anchor="end" stroke="#231f20" stroke-width="0.3" >0</text>
<text transform="translate(13.4,206.5) rotate(-90)" font-size="14" font-weight="bold" fill="#231f20" text-anchor="middle" stroke="#231f20" stroke-width="0.3" textLength="165" lengthAdjust="spacing" >mEPSC Frequency (Hz)</text>
<rect x="67.4" y="207.2" width="23.3" height="99" fill="#f33e42" stroke="#000" stroke-width="2"/>
<rect x="106.3" y="250.3" width="22.8" height="55.9" fill="#4aa5af" stroke="#000" stroke-width="2"/>
<rect x="145" y="191" width="22.8" height="115.2" fill="#f42c8c" stroke="#000" stroke-width="2"/>
<circle cx="78.8" cy="175.5" r="3" fill="none" stroke="#000" stroke-width="1.1"/>
<circle cx="73" cy="195.3" r="3" fill="none" stroke="#000" stroke-width="1.1"/>
<circle cx="85" cy="196.3" r="3" fill="none" stroke="#000" stroke-width="1.1"/>
<circle cx="78.8" cy="203.9" r="3" fill="none" stroke="#000" stroke-width="1.1"/>
<circle cx="78.8" cy="223.7" r="3" fill="none" stroke="#000" stroke-width="1.1"/>
<circle cx="78.8" cy="239.8" r="3" fill="none" stroke="#000" stroke-width="1.1"/>
<line x1="79" y1="197" x2="79" y2="215.3" stroke="#000" stroke-width="1.1" stroke-linecap="butt"/>
<line x1="72.8" y1="197" x2="85.2" y2="197" stroke="#000" stroke-width="1.1" stroke-linecap="butt"/>
<line x1="72.8" y1="215.3" x2="85.2" y2="215.3" stroke="#000" stroke-width="1.1" stroke-linecap="butt"/>
<circle cx="117.7" cy="227" r="3" fill="none" stroke="#000" stroke-width="1.1"/>
<circle cx="107.5" cy="243" r="3" fill="none" stroke="#000" stroke-width="1.1"/>
<circle cx="117.7" cy="244.7" r="3" fill="none" stroke="#000" stroke-width="1.1"/>
<circle cx="117.7" cy="257.6" r="3" fill="none" stroke="#000" stroke-width="1.1"/>
<circle cx="127.2" cy="257.6" r="3" fill="none" stroke="#000" stroke-width="1.1"/>
<circle cx="107.5" cy="260.8" r="3" fill="none" stroke="#000" stroke-width="1.1"/>
<line x1="117.7" y1="243" x2="117.7" y2="253.2" stroke="#000" stroke-width="1.1" stroke-linecap="butt"/>
<line x1="111.5" y1="243" x2="123.9" y2="243" stroke="#000" stroke-width="1.1" stroke-linecap="butt"/>
<line x1="111.5" y1="253.2" x2="123.9" y2="253.2" stroke="#000" stroke-width="1.1" stroke-linecap="butt"/>
<circle cx="156.4" cy="129.6" r="3" fill="none" stroke="#000" stroke-width="1.1"/>
<circle cx="156.4" cy="151.2" r="3" fill="none" stroke="#000" stroke-width="1.1"/>
<circle cx="156.4" cy="159.6" r="3" fill="none" stroke="#000" stroke-width="1.1"/>
<circle cx="156.4" cy="199.2" r="3" fill="none" stroke="#000" stroke-width="1.1"/>
<circle cx="156.4" cy="212.6" r="3" fill="none" stroke="#000" stroke-width="1.1"/>
<circle cx="156.4" cy="227" r="3" fill="none" stroke="#000" stroke-width="1.1"/>
<circle cx="156.4" cy="247.8" r="3" fill="none" stroke="#000" stroke-width="1.1"/>
<line x1="156.4" y1="172.8" x2="156.4" y2="205.8" stroke="#000" stroke-width="1.1" stroke-linecap="butt"/>
<line x1="150.2" y1="172.8" x2="162.6" y2="172.8" stroke="#000" stroke-width="1.1" stroke-linecap="butt"/>
<line x1="150.2" y1="205.8" x2="162.6" y2="205.8" stroke="#000" stroke-width="1.1" stroke-linecap="butt"/>
<line x1="79.6" y1="114.7" x2="156.4" y2="114.7" stroke="#000" stroke-width="1.7" stroke-linecap="butt"/>
<text x="116.8" y="107" font-size="14" font-weight="normal" fill="#231f20" text-anchor="middle" stroke="#231f20" stroke-width="0.3" >ns</text>
<line x1="79.6" y1="139.9" x2="117.7" y2="139.9" stroke="#000" stroke-width="1.7" stroke-linecap="butt"/>
<path d="M98.45,122.65L98.45,130.25M94.51,124.17L102.39,128.72M94.51,128.72L102.39,124.17" stroke="#000" stroke-width="1.95" stroke-linecap="round" fill="none"/>
<text transform="translate(86.4,326.7) rotate(-45)" font-size="13.5" font-weight="bold" fill="#231f20" text-anchor="end" stroke="#231f20" stroke-width="0.3" textLength="25.5" lengthAdjust="spacing" >CCI</text>
<text transform="translate(126.5,323.7) rotate(-45)" font-size="13.5" font-weight="bold" fill="#231f20" text-anchor="end" stroke="#231f20" stroke-width="0.3" textLength="49.5" lengthAdjust="spacing" >shRNA</text>
<text transform="translate(160.1,322.5) rotate(-45)" font-size="13.5" font-weight="bold" fill="#231f20" text-anchor="end" stroke="#231f20" stroke-width="0.3" textLength="71.8" lengthAdjust="spacing" >Scramble-</text>
<text transform="translate(160.8,341.4) rotate(-45)" font-size="13.5" font-weight="bold" fill="#231f20" text-anchor="end" stroke="#231f20" stroke-width="0.3" textLength="49.5" lengthAdjust="spacing" >shRNA</text>
<text x="199.5" y="96.4" font-size="20" font-weight="bold" fill="#231f20" text-anchor="start" stroke="#231f20" stroke-width="0.3" >c</text>
<line x1="282.9" y1="103.1" x2="282.9" y2="304.8" stroke="#000" stroke-width="1.7" stroke-linecap="butt"/>
<line x1="274.2" y1="103.9" x2="282.9" y2="103.9" stroke="#000" stroke-width="1.7" stroke-linecap="butt"/>
<text x="271.4" y="109.3" font-size="14" font-weight="bold" fill="#231f20" text-anchor="end" stroke="#231f20" stroke-width="0.3" textLength="24.95" lengthAdjust="spacing" >100</text>
<line x1="274.2" y1="204.05" x2="282.9" y2="204.05" stroke="#000" stroke-width="1.7" stroke-linecap="butt"/>
<text x="271.4" y="209.45" font-size="14" font-weight="bold" fill="#231f20" text-anchor="end" stroke="#231f20" stroke-width="0.3" textLength="16.37" lengthAdjust="spacing" >50</text>
<line x1="274.2" y1="304" x2="282.9" y2="304" stroke="#000" stroke-width="1.7" stroke-linecap="butt"/>
<text x="271.4" y="309.4" font-size="14" font-weight="bold" fill="#231f20" text-anchor="end" stroke="#231f20" stroke-width="0.3" >0</text>
<line x1="274.2" y1="304" x2="582.9" y2="304" stroke="#000" stroke-width="1.7" stroke-linecap="butt"/>
<line x1="282.8" y1="304" x2="282.8" y2="312.2" stroke="#000" stroke-width="1.7" stroke-linecap="butt"/>
<text x="282.8" y="329" font-size="14" font-weight="bold" fill="#231f20" text-anchor="middle" stroke="#231f20" stroke-width="0.3" >0</text>
<line x1="342.7" y1="304" x2="342.7" y2="312.2" stroke="#000" stroke-width="1.7" stroke-linecap="butt"/>
<text x="342.7" y="329" font-size="14" font-weight="bold" fill="#231f20" text-anchor="middle" stroke="#231f20" stroke-width="0.3" textLength="33.54" lengthAdjust="spacing" >1000</text>
<line x1="402.6" y1="304" x2="402.6" y2="312.2" stroke="#000" stroke-width="1.7" stroke-linecap="butt"/>
<text x="402.6" y="329" font-size="14" font-weight="bold" fill="#231f20" text-anchor="middle" stroke="#231f20" stroke-width="0.3" textLength="33.54" lengthAdjust="spacing" >2000</text>
<line x1="462.5" y1="304" x2="462.5" y2="312.2" stroke="#000" stroke-width="1.7" stroke-linecap="butt"/>
<text x="462.5" y="329" font-size="14" font-weight="bold" fill="#231f20" text-anchor="middle" stroke="#231f20" stroke-width="0.3" textLength="33.54" lengthAdjust="spacing" >3000</text>
<line x1="522.4" y1="304" x2="522.4" y2="312.2" stroke="#000" stroke-width="1.7" stroke-linecap="butt"/>
<text x="522.4" y="329" font-size="14" font-weight="bold" fill="#231f20" text-anchor="middle" stroke="#231f20" stroke-width="0.3" textLength="33.54" lengthAdjust="spacing" >4000</text>
<line x1="582.3" y1="304" x2="582.3" y2="312.2" stroke="#000" stroke-width="1.7" stroke-linecap="butt"/>
<text x="582.3" y="329" font-size="14" font-weight="bold" fill="#231f20" text-anchor="middle" stroke="#231f20" stroke-width="0.3" textLength="33.54" lengthAdjust="spacing" >5000</text>
<text transform="translate(233.4,209.2) rotate(-90)" font-size="14" font-weight="bold" fill="#231f20" text-anchor="middle" stroke="#231f20" stroke-width="0.3" textLength="241" lengthAdjust="spacing" >Relative frequency (percentages)</text>
<text x="432.5" y="352.6" font-size="13.5" font-weight="bold" fill="#231f20" text-anchor="middle" stroke="#231f20" stroke-width="0.3" textLength="174.5" lengthAdjust="spacing" >Inter-event-interval (ms)</text>
<polyline points="282.8,304 283.54,304 283.54,302.35 284.28,302.35 284.28,300.72 284.53,300.72 284.53,300.15 284.68,300.15 284.68,299.55 284.95,299.55 284.95,298.04 285.2,298.04 285.2,296.66 285.44,296.66 285.44,295.36 285.59,295.36 285.59,294.49 285.81,294.49 285.81,293.26 286.03,293.26 286.03,292.03 286.25,292.03 286.25,290.83 286.37,290.83 286.37,290.14 286.56,290.14 286.56,289.13 286.73,289.13 286.73,288.15 286.98,288.15 286.98,286.79 287.28,286.79 287.28,285.09 287.58,285.09 287.58,283.45 287.79,283.45 287.79,282.3 287.97,282.3 287.97,281.27 288.12,281.27 288.12,280.45 288.23,280.45 288.23,279.9 288.36,279.9 288.36,279.37 288.64,279.37 288.64,278.31 288.87,278.31 288.87,277.43 289.12,277.43 289.12,276.47 289.53,276.47 289.53,274.9 289.82,274.9 289.82,273.77 290.12,273.77 290.12,272.6 290.33,272.6 290.33,271.82 290.47,271.82 290.47,271.29 290.7,271.29 290.7,270.4 290.87,270.4 290.87,269.73 291.16,269.73 291.16,268.62 291.6,268.62 291.6,266.92 291.94,266.92 291.94,265.61 292.13,265.61 292.13,264.89 292.54,264.89 292.54,263.32 292.91,263.32 292.91,261.87 293.27,261.87 293.27,260.49 293.69,260.49 293.69,258.9 294.05,258.9 294.05,257.48 294.43,257.48 294.43,256.03 294.67,256.03 294.67,255.11 295.11,255.11 295.11,253.43 295.54,253.43 295.54,251.78 295.72,251.78 295.72,251.08 296.1,251.08 296.1,249.68 296.54,249.68 296.54,248.32 296.87,248.32 296.87,247.27 297.24,247.27 297.24,246.13 297.59,246.13 297.59,245.04 298.1,245.04 298.1,243.43 298.45,243.43 298.45,242.33 298.93,242.33 298.93,240.84 299.23,240.84 299.23,239.91 299.68,239.91 299.68,238.35 300.14,238.35 300.14,236.77 300.44,236.77 300.44,235.72 300.78,235.72 300.78,234.54 301.25,234.54 301.25,232.93 301.65,232.93 301.65,231.56 301.96,231.56 301.96,230.48 302.18,230.48 302.18,229.71 302.44,229.71 302.44,228.82 302.83,228.82 302.83,227.48 303.03,227.48 303.03,226.79 303.49,226.79 303.49,225.2 303.73,225.2 303.73,224.37 304.19,224.37 304.19,222.78 304.45,222.78 304.45,221.91 304.92,221.91 304.92,220.26 305.47,220.26 305.47,218.91 305.95,218.91 305.95,217.81 306.43,217.81 306.43,216.69 306.99,216.69 306.99,215.4 307.51,215.4 307.51,214.2 307.88,214.2 307.88,213.32 308.21,213.32 308.21,212.58 308.69,212.58 308.69,211.46 309.39,211.46 309.39,209.84 309.93,209.84 309.93,208.59 310.18,208.59 310.18,208 310.82,208 310.82,206.52 311.42,206.52 311.42,205.15 312.1,205.15 312.1,203.56 312.42,203.56 312.42,202.83 313.02,202.83 313.02,201.43 313.27,201.43 313.27,200.86 313.82,200.86 313.82,199.58 314.18,199.58 314.18,198.75 314.51,198.75 314.51,197.98 315.18,197.98 315.18,196.43 315.45,196.43 315.45,195.8 316.03,195.8 316.03,194.68 317.12,194.68 317.12,193.15 317.68,193.15 317.68,192.36 318.22,192.36 318.22,191.6 319.33,191.6 319.33,190.05 320.05,190.05 320.05,189.04 321.02,189.04 321.02,187.68 321.4,187.68 321.4,187.14 322.06,187.14 322.06,186.21 322.57,186.21 322.57,185.5 323.5,185.5 323.5,184.19 323.93,184.19 323.93,183.59 325.1,183.59 325.1,181.95 325.48,181.95 325.48,181.42 326.46,181.42 326.46,180.04 326.86,180.04 326.86,179.52 327.58,179.52 327.58,178.71 328.89,178.71 328.89,177.23 329.5,177.23 329.5,176.55 330.13,176.55 330.13,175.82 331.31,175.82 331.31,174.5 332.17,174.5 332.17,173.53 332.66,173.53 332.66,172.98 334.15,172.98 334.15,171.29 334.76,171.29 334.76,170.61 335.24,170.61 335.24,170.07 336.05,170.07 336.05,169.15 337.14,169.15 337.14,167.92 338.38,167.92 338.38,166.53 338.71,166.53 338.71,165.89 339.16,165.89 339.16,164.98 339.43,164.98 339.43,164.45 339.95,164.45 339.95,163.41 340.67,163.41 340.67,161.99 341.37,161.99 341.37,160.6 342.16,160.6 342.16,159.02 342.87,159.02 342.87,157.61 343.64,157.61 343.64,156.08 344.32,156.08 344.32,154.73 344.85,154.73 344.85,153.66 345.24,153.66 345.24,152.89 345.89,152.89 345.89,151.6 346.33,151.6 346.33,150.72 346.65,150.72 346.65,150.1 347.17,150.1 347.17,149.06 348.89,149.06 348.89,147.51 349.64,147.51 349.64,146.86 351,146.86 351,145.66 352.11,145.66 352.11,144.68 353.38,144.68 353.38,143.57 354.14,143.57 354.14,142.89 356.02,142.89 356.02,141.24 356.94,141.24 356.94,140.43 358.34,140.43 358.34,139.2 360.19,139.2 360.19,138.2 361.4,138.2 361.4,137.68 364.11,137.68 364.11,136.51 365.66,136.51 365.66,135.84 366.98,135.84 366.98,135.27 368.23,135.27 368.23,134.73 369.35,134.73 369.35,134.04 369.94,134.04 369.94,133.42 371.16,133.42 371.16,132.16 372.23,132.16 372.23,131.05 373.86,131.05 373.86,129.37 375.84,129.37 375.84,127.75 378.42,127.75 378.42,126.06 379.6,126.06 379.6,125.28 381.17,125.28 381.17,124.25 383.09,124.25 383.09,123.44 386.77,123.44 386.77,122.23 396.34,122.23 396.34,120.99 404.58,120.99 404.58,119.53 405.73,119.53 405.73,118.17 406.42,118.17 406.42,117.37 407.28,117.37 407.28,116.36 408.25,116.36 408.25,115.23 408.68,115.23 408.68,114.72 409.15,114.72 409.15,114.18 410.55,114.18 410.55,113.19 414.22,113.19 414.22,112.55 430.85,112.55 430.85,111.19 438.2,111.19 438.2,110.4 441.43,110.4 441.43,109.78 449.19,109.78 449.19,109.06 453.16,109.06 453.16,108.28 454.71,108.28 454.71,107.52 457.07,107.52 457.07,106.4 474.44,106.4 474.44,105.34 503,105.34 503,104.5 503,104.5" fill="none" stroke="#45a8b4" stroke-width="2.0" stroke-linejoin="round" stroke-linecap="butt"/>
<polyline points="282.8,304 282.88,304 282.88,303.21 282.99,303.21 282.99,302.06 283.09,302.06 283.09,301.12 283.21,301.12 283.21,299.89 283.38,299.89 283.38,298.64 283.45,298.64 283.45,298.06 283.52,298.06 283.52,297.55 283.71,297.55 283.71,296.04 283.82,296.04 283.82,295.23 283.92,295.23 283.92,294.45 284.14,294.45 284.14,292.76 284.28,292.76 284.28,291.69 284.48,291.69 284.48,290.19 284.61,290.19 284.61,289.12 284.78,289.12 284.78,287.85 284.87,287.85 284.87,287.17 285.03,287.17 285.03,285.91 285.23,285.91 285.23,284.36 285.38,284.36 285.38,283.24 285.56,283.24 285.56,281.85 285.73,281.85 285.73,280.54 285.8,280.54 285.8,279.96 285.99,279.96 285.99,278.55 286.15,278.55 286.15,277.35 286.26,277.35 286.26,276.48 286.33,276.48 286.33,275.95 286.53,275.95 286.53,274.41 286.67,274.41 286.67,273.34 286.84,273.34 286.84,271.98 287.04,271.98 287.04,270.42 287.22,270.42 287.22,269.07 287.43,269.07 287.43,267.46 287.56,267.46 287.56,266.49 287.75,266.49 287.75,265.03 287.88,265.03 287.88,263.99 288.09,263.99 288.09,262.37 288.29,262.37 288.29,260.82 288.37,260.82 288.37,260.2 288.47,260.2 288.47,259.54 288.59,259.54 288.59,258.77 288.85,258.77 288.85,257.12 289.01,257.12 289.01,256.09 289.2,256.09 289.2,254.84 289.33,254.84 289.33,253.98 289.5,253.98 289.5,252.87 289.65,252.87 289.65,251.91 289.8,251.91 289.8,250.99 289.98,250.99 289.98,249.78 290.17,249.78 290.17,248.58 290.42,248.58 290.42,247 290.62,247 290.62,245.68 290.87,245.68 290.87,244.07 291.11,244.07 291.11,242.54 291.37,242.54 291.37,240.85 291.59,240.85 291.59,239.54 291.72,239.54 291.72,238.85 292.01,238.85 292.01,237.31 292.33,237.31 292.33,235.66 292.63,235.66 292.63,234.07 292.85,234.07 292.85,232.89 293.11,232.89 293.11,231.53 293.25,231.53 293.25,230.78 293.54,230.78 293.54,229.28 293.76,229.28 293.76,228.09 293.92,228.09 293.92,227.25 294.03,227.25 294.03,226.67 294.32,226.67 294.32,225.15 294.64,225.15 294.64,223.46 294.76,223.46 294.76,222.86 295.03,222.86 295.03,221.39 295.22,221.39 295.22,220.4 295.36,220.4 295.36,219.72 295.53,219.72 295.53,218.87 295.81,218.87 295.81,217.45 296.12,217.45 296.12,215.9 296.23,215.9 296.23,215.35 296.48,215.35 296.48,214.11 296.59,214.11 296.59,213.55 296.86,213.55 296.86,212.19 297.04,212.19 297.04,211.3 297.35,211.3 297.35,209.74 297.69,209.74 297.69,208.06 297.91,208.06 297.91,206.95 298.25,206.95 298.25,205.26 298.42,205.26 298.42,204.39 298.54,204.39 298.54,203.79 298.79,203.79 298.79,202.57 298.89,202.57 298.89,202.04 299.04,202.04 299.04,201.3 299.24,201.3 299.24,200.31 299.48,200.31 299.48,199.08 299.62,199.08 299.62,198.39 299.73,198.39 299.73,197.84 300.04,197.84 300.04,196.3 300.22,196.3 300.22,195.42 300.73,195.42 300.73,193.77 301.28,193.77 301.28,192.19 301.61,192.19 301.61,191.24 301.97,191.24 301.97,190.19 302.36,190.19 302.36,189.06 302.81,189.06 302.81,187.79 303.23,187.79 303.23,186.58 303.64,186.58 303.64,185.41 304.07,185.41 304.07,184.16 304.64,184.16 304.64,182.53 305.02,182.53 305.02,181.42 305.38,181.42 305.38,180.41 305.85,180.41 305.85,179.04 306.12,179.04 306.12,178.26 306.42,178.26 306.42,177.4 307.01,177.4 307.01,175.72 307.4,175.72 307.4,174.6 307.8,174.6 307.8,173.44 307.98,173.44 307.98,172.93 308.33,172.93 308.33,171.93 308.88,171.93 308.88,170.73 309.12,170.73 309.12,170.21 309.68,170.21 309.68,168.97 310.25,168.97 310.25,167.71 310.51,167.71 310.51,167.14 311.08,167.14 311.08,165.88 311.56,165.88 311.56,164.82 312.16,164.82 312.16,163.51 312.58,163.51 312.58,162.59 313.19,162.59 313.19,161.24 313.82,161.24 313.82,159.85 314.06,159.85 314.06,159.33 314.32,159.33 314.32,158.75 314.92,158.75 314.92,157.44 315.67,157.44 315.67,155.79 316.03,155.79 316.03,154.98 316.51,154.98 316.51,153.94 317.06,153.94 317.06,152.73 317.46,152.73 317.46,151.84 317.89,151.84 317.89,150.91 318.29,150.91 318.29,150.03 319.04,150.03 319.04,149.09 320.03,149.09 320.03,147.87 320.73,147.87 320.73,147.01 321.51,147.01 321.51,146.06 322.67,146.06 322.67,144.63 323.1,144.63 323.1,144.1 324.06,144.1 324.06,142.92 325.19,142.92 325.19,141.53 325.89,141.53 325.89,140.66 326.52,140.66 326.52,139.9 327.71,139.9 327.71,138.43 328.35,138.43 328.35,137.64 328.94,137.64 328.94,136.92 329.77,136.92 329.77,135.9 330.98,135.9 330.98,134.56 331.66,134.56 331.66,133.94 332.64,133.94 332.64,133.05 333.62,133.05 333.62,132.15 335.27,132.15 335.27,130.65 336.39,130.65 336.39,129.62 338.06,129.62 338.06,128.1 338.84,128.1 338.84,127.39 339.83,127.39 339.83,126.49 341.23,126.49 341.23,125.21 342.94,125.21 342.94,123.65 344.08,123.65 344.08,122.61 345.68,122.61 345.68,121.84 347.12,121.84 347.12,121.19 349.65,121.19 349.65,120.06 351.15,120.06 351.15,119.33 354.08,119.33 354.08,117.86 357.09,117.86 357.09,116.35 358.53,116.35 358.53,115.63 359.68,115.63 359.68,114.8 361.53,114.8 361.53,113.33 363.13,113.33 363.13,112.06 364.98,112.06 364.98,110.59 366.53,110.59 366.53,109.68 379.26,109.68 379.26,109.02 392.92,109.02 392.92,108.17 407.55,108.17 407.55,106.72 413.58,106.72 413.58,105.89 421.41,105.89 421.41,104.98 484,104.98 484,104.2 484,104.2" fill="none" stroke="#c42a7a" stroke-width="2.0" stroke-linejoin="round" stroke-linecap="butt"/>
<polyline points="282.8,304 282.92,304 282.92,303.22 283.01,303.22 283.01,302.59 283.16,302.59 283.16,301.62 283.26,301.62 283.26,300.93 283.35,300.93 283.35,300.35 283.49,300.35 283.49,299.37 283.73,299.37 283.73,297.77 283.95,297.77 283.95,296.31 284.17,296.31 284.17,294.89 284.28,294.89 284.28,294.12 284.45,294.12 284.45,292.98 284.58,292.98 284.58,292.15 284.68,292.15 284.68,291.44 284.78,291.44 284.78,290.81 284.89,290.81 284.89,290.06 285.13,290.06 285.13,288.44 285.36,288.44 285.36,286.95 285.58,286.95 285.58,285.48 285.8,285.48 285.8,284.02 285.91,284.02 285.91,283.29 286.04,283.29 286.04,282.42 286.23,282.42 286.23,281.16 286.43,281.16 286.43,279.78 286.63,279.78 286.63,278.26 286.83,278.26 286.83,276.7 286.91,276.7 286.91,276.1 287.07,276.1 287.07,274.87 287.24,274.87 287.24,273.57 287.38,273.57 287.38,272.46 287.47,272.46 287.47,271.75 287.61,271.75 287.61,270.68 287.69,270.68 287.69,270.07 287.9,270.07 287.9,268.45 288.1,268.45 288.1,266.91 288.25,266.91 288.25,265.75 288.36,265.75 288.36,264.89 288.57,264.89 288.57,263.3 288.73,263.3 288.73,262.11 288.93,262.11 288.93,260.56 289.15,260.56 289.15,259.04 289.33,259.04 289.33,257.93 289.49,257.93 289.49,256.93 289.69,256.93 289.69,255.71 289.85,255.71 289.85,254.7 289.96,254.7 289.96,254 290.1,254 290.1,253.14 290.33,253.14 290.33,251.66 290.42,251.66 290.42,251.11 290.51,251.11 290.51,250.55 290.71,250.55 290.71,249.3 290.85,249.3 290.85,248.47 291.03,248.47 291.03,247.32 291.2,247.32 291.2,246.26 291.34,246.26 291.34,245.35 291.62,245.35 291.62,243.65 291.73,243.65 291.73,242.92 291.89,242.92 291.89,241.92 292.01,241.92 292.01,241.18 292.22,241.18 292.22,239.92 292.39,239.92 292.39,239.09 292.58,239.09 292.58,238.16 292.86,238.16 292.86,236.76 293.05,236.76 293.05,235.88 293.28,235.88 293.28,234.71 293.61,234.71 293.61,233.12 293.74,233.12 293.74,232.5 293.85,232.5 293.85,231.93 294.01,231.93 294.01,231.15 294.3,231.15 294.3,229.73 294.56,229.73 294.56,228.5 294.72,228.5 294.72,227.71 294.9,227.71 294.9,226.81 295.05,226.81 295.05,226.1 295.26,226.1 295.26,225.05 295.38,225.05 295.38,224.5 295.65,224.5 295.65,223.16 295.97,223.16 295.97,221.59 296.31,221.59 296.31,219.94 296.58,219.94 296.58,218.56 296.91,218.56 296.91,216.91 297.01,216.91 297.01,216.39 297.17,216.39 297.17,215.54 297.5,215.54 297.5,213.88 297.78,213.88 297.78,212.45 297.97,212.45 297.97,211.46 298.29,211.46 298.29,209.82 298.54,209.82 298.54,208.58 298.83,208.58 298.83,207.1 299,207.1 299,206.25 299.14,206.25 299.14,205.52 299.34,205.52 299.34,204.48 299.47,204.48 299.47,203.82 299.66,203.82 299.66,202.86 299.98,202.86 299.98,201.21 300.16,201.21 300.16,200.31 300.26,200.31 300.26,199.8 300.37,199.8 300.37,199.25 300.51,199.25 300.51,198.54 300.79,198.54 300.79,197.1 300.97,197.1 300.97,196.17 301.14,196.17 301.14,195.32 301.31,195.32 301.31,194.7 301.9,194.7 301.9,193.02 302.26,193.02 302.26,192.01 302.52,192.01 302.52,191.26 302.72,191.26 302.72,190.69 302.92,190.69 302.92,190.13 303.17,190.13 303.17,189.42 303.64,189.42 303.64,188.11 303.88,188.11 303.88,187.43 304.07,187.43 304.07,186.88 304.46,186.88 304.46,185.8 304.74,185.8 304.74,185 305.34,185 305.34,183.3 305.57,183.3 305.57,182.65 305.97,182.65 305.97,181.52 306.48,181.52 306.48,180.09 306.83,180.09 306.83,179.1 307.43,179.1 307.43,177.41 307.81,177.41 307.81,176.34 308.09,176.34 308.09,175.55 308.44,175.55 308.44,174.56 308.63,174.56 308.63,174.01 308.99,174.01 308.99,173.01 309.29,173.01 309.29,172.21 310.02,172.21 310.02,170.64 310.72,170.64 310.72,169.14 311.23,169.14 311.23,168.05 311.48,168.05 311.48,167.51 311.85,167.51 311.85,166.7 312.22,166.7 312.22,165.91 312.57,165.91 312.57,165.16 312.93,165.16 312.93,164.38 313.65,164.38 313.65,162.84 313.96,162.84 313.96,162.17 314.23,162.17 314.23,161.61 314.98,161.61 314.98,160 315.53,160 315.53,158.82 316.31,158.82 316.31,157.13 316.77,157.13 316.77,156.14 317.51,156.14 317.51,154.56 318.11,154.56 318.11,153.28 318.78,153.28 318.78,151.83 319.45,151.83 319.45,150.44 320.33,150.44 320.33,149.34 320.82,149.34 320.82,148.73 321.42,148.73 321.42,147.98 322.66,147.98 322.66,146.43 323.93,146.43 323.93,144.85 325.22,144.85 325.22,143.24 325.94,143.24 325.94,142.34 326.97,142.34 326.97,141.05 328.14,141.05 328.14,139.59 329.16,139.59 329.16,138.32 330.35,138.32 330.35,136.84 331.36,136.84 331.36,135.71 333.07,135.71 333.07,134.42 334.83,134.42 334.83,133.1 335.92,133.1 335.92,132.28 338.06,132.28 338.06,130.67 340.25,130.67 340.25,129.02 341.03,129.02 341.03,128.43 343.17,128.43 343.17,126.77 345,126.77 345,125.11 346.44,125.11 346.44,123.81 347.06,123.81 347.06,123.26 348.81,123.26 348.81,121.68 349.53,121.68 349.53,121.02 353.03,121.02 353.03,119.36 356.2,119.36 356.2,118.06 357.6,118.06 357.6,117.49 359.38,117.49 359.38,116.79 362.86,116.79 362.86,115.53 366.12,115.53 366.12,114.34 375.95,114.34 375.95,112.95 385.53,112.95 385.53,111.33 387.18,111.33 387.18,110.57 388.27,110.57 388.27,110.07 391.74,110.07 391.74,108.46 394.46,108.46 394.46,107.95 407.6,107.95 407.6,106.39 417.58,106.39 417.58,105.75 492.01,105.75 492.01,104.28 525.4,104.28 525.4,104 525.4,104" fill="none" stroke="#f0393f" stroke-width="2.0" stroke-linejoin="round" stroke-linecap="butt"/>
<line x1="398.7" y1="197.4" x2="420.3" y2="197.4" stroke="#ef4048" stroke-width="2.2" stroke-linecap="butt"/>
<text x="432.2" y="202.6" font-size="14" font-weight="bold" fill="#231f20" text-anchor="start" stroke="#231f20" stroke-width="0.3" textLength="25.8" lengthAdjust="spacingAndGlyphs" >CCI</text>
<line x1="398.7" y1="224.7" x2="420.3" y2="224.7" stroke="#44a8b4" stroke-width="2.2" stroke-linecap="butt"/>
<text x="432.2" y="229.9" font-size="14" font-weight="bold" fill="#231f20" text-anchor="start" stroke="#231f20" stroke-width="0.3" textLength="49.4" lengthAdjust="spacingAndGlyphs" >shRNA</text>
<line x1="398.7" y1="252" x2="420.3" y2="252" stroke="#c8287a" stroke-width="2.2" stroke-linecap="butt"/>
<text x="432.2" y="257.2" font-size="14" font-weight="bold" fill="#231f20" text-anchor="start" stroke="#231f20" stroke-width="0.3" textLength="121" lengthAdjust="spacingAndGlyphs" >Scramble shRNA</text>
<text x="6.2" y="389.7" font-size="20" font-weight="bold" fill="#231f20" text-anchor="start" stroke="#231f20" stroke-width="0.3" >d</text>
<line x1="52.9" y1="403.2" x2="52.9" y2="604.6" stroke="#000" stroke-width="1.7" stroke-linecap="butt"/>
<line x1="44.6" y1="404" x2="52.9" y2="404" stroke="#000" stroke-width="1.7" stroke-linecap="butt"/>
<text x="41.7" y="409.5" font-size="14" font-weight="bold" fill="#231f20" text-anchor="end" stroke="#231f20" stroke-width="0.3" textLength="16.37" lengthAdjust="spacing" >30</text>
<line x1="44.6" y1="470.6" x2="52.9" y2="470.6" stroke="#000" stroke-width="1.7" stroke-linecap="butt"/>
<text x="41.7" y="476.1" font-size="14" font-weight="bold" fill="#231f20" text-anchor="end" stroke="#231f20" stroke-width="0.3" textLength="16.37" lengthAdjust="spacing" >20</text>
<line x1="44.6" y1="537.2" x2="52.9" y2="537.2" stroke="#000" stroke-width="1.7" stroke-linecap="butt"/>
<text x="41.7" y="542.7" font-size="14" font-weight="bold" fill="#231f20" text-anchor="end" stroke="#231f20" stroke-width="0.3" textLength="16.37" lengthAdjust="spacing" >10</text>
<line x1="44.6" y1="603.8" x2="52.9" y2="603.8" stroke="#000" stroke-width="1.7" stroke-linecap="butt"/>
<text x="41.7" y="609.3" font-size="14" font-weight="bold" fill="#231f20" text-anchor="end" stroke="#231f20" stroke-width="0.3" >0</text>
<line x1="44.6" y1="603.8" x2="186" y2="603.8" stroke="#000" stroke-width="1.7" stroke-linecap="butt"/>
<line x1="79.4" y1="603.8" x2="79.4" y2="612.3" stroke="#000" stroke-width="1.7" stroke-linecap="butt"/>
<line x1="119.3" y1="603.8" x2="119.3" y2="612.3" stroke="#000" stroke-width="1.7" stroke-linecap="butt"/>
<line x1="159.4" y1="603.8" x2="159.4" y2="612.3" stroke="#000" stroke-width="1.7" stroke-linecap="butt"/>
<text transform="translate(17.2,500.8) rotate(-90)" font-size="14" font-weight="bold" fill="#231f20" text-anchor="middle" stroke="#231f20" stroke-width="0.3" textLength="103" lengthAdjust="spacing" >Amplitude(pA)</text>
<rect x="67.4" y="485.8" width="23.9" height="118" fill="#f33e42" stroke="#000" stroke-width="2"/>
<rect x="107.4" y="524.4" width="24.3" height="79.4" fill="#4aa5af" stroke="#000" stroke-width="2"/>
<rect x="147.4" y="484.5" width="23.7" height="119.3" fill="#f42c8c" stroke="#000" stroke-width="2"/>
<circle cx="79.6" cy="432.5" r="3" fill="none" stroke="#000" stroke-width="1.1"/>
<circle cx="79.6" cy="474.6" r="3" fill="none" stroke="#000" stroke-width="1.1"/>
<circle cx="79.6" cy="485.5" r="3" fill="none" stroke="#000" stroke-width="1.1"/>
<circle cx="73.7" cy="492.8" r="3" fill="none" stroke="#000" stroke-width="1.1"/>
<circle cx="85.4" cy="494.3" r="3" fill="none" stroke="#000" stroke-width="1.1"/>
<circle cx="79.6" cy="526.9" r="3" fill="none" stroke="#000" stroke-width="1.1"/>
<line x1="79.6" y1="471.4" x2="79.6" y2="496.8" stroke="#000" stroke-width="1.1" stroke-linecap="butt"/>
<line x1="73.4" y1="471.4" x2="85.8" y2="471.4" stroke="#000" stroke-width="1.1" stroke-linecap="butt"/>
<line x1="73.4" y1="496.8" x2="85.8" y2="496.8" stroke="#000" stroke-width="1.1" stroke-linecap="butt"/>
<circle cx="119.5" cy="491.5" r="3" fill="none" stroke="#000" stroke-width="1.1"/>
<circle cx="113.2" cy="512.8" r="3" fill="none" stroke="#000" stroke-width="1.1"/>
<circle cx="125.4" cy="517.8" r="3" fill="none" stroke="#000" stroke-width="1.1"/>
<circle cx="119.5" cy="526.6" r="3" fill="none" stroke="#000" stroke-width="1.1"/>
<circle cx="125.4" cy="540.6" r="3" fill="none" stroke="#000" stroke-width="1.1"/>
<circle cx="113.5" cy="546.4" r="3" fill="none" stroke="#000" stroke-width="1.1"/>
<line x1="119.5" y1="514.6" x2="119.5" y2="530.7" stroke="#000" stroke-width="1.1" stroke-linecap="butt"/>
<line x1="113.3" y1="514.6" x2="125.7" y2="514.6" stroke="#000" stroke-width="1.1" stroke-linecap="butt"/>
<line x1="113.3" y1="530.7" x2="125.7" y2="530.7" stroke="#000" stroke-width="1.1" stroke-linecap="butt"/>
<circle cx="159.2" cy="434.2" r="3" fill="none" stroke="#000" stroke-width="1.1"/>
<circle cx="149" cy="478.4" r="3" fill="none" stroke="#000" stroke-width="1.1"/>
<circle cx="169.7" cy="479.1" r="3" fill="none" stroke="#000" stroke-width="1.1"/>
<circle cx="159.2" cy="480.6" r="3" fill="none" stroke="#000" stroke-width="1.1"/>
<circle cx="159.2" cy="491.5" r="3" fill="none" stroke="#000" stroke-width="1.1"/>
<circle cx="154.1" cy="508.3" r="3" fill="none" stroke="#000" stroke-width="1.1"/>
<circle cx="164.8" cy="506.6" r="3" fill="none" stroke="#000" stroke-width="1.1"/>
<line x1="159.2" y1="473.3" x2="159.2" y2="492" stroke="#000" stroke-width="1.1" stroke-linecap="butt"/>
<line x1="153" y1="473.3" x2="165.4" y2="473.3" stroke="#000" stroke-width="1.1" stroke-linecap="butt"/>
<line x1="153" y1="492" x2="165.4" y2="492" stroke="#000" stroke-width="1.1" stroke-linecap="butt"/>
<line x1="78.1" y1="417.5" x2="156.4" y2="417.5" stroke="#000" stroke-width="1.7" stroke-linecap="butt"/>
<text x="117.5" y="409.3" font-size="14" font-weight="normal" fill="#231f20" text-anchor="middle" stroke="#231f20" stroke-width="0.3" >ns</text>
<line x1="78.1" y1="442.3" x2="116.6" y2="442.3" stroke="#000" stroke-width="1.7" stroke-linecap="butt"/>
<path d="M97.5,424.9L97.5,432.5M93.56,426.43L101.44,430.97M93.56,430.97L101.44,426.43" stroke="#000" stroke-width="1.95" stroke-linecap="round" fill="none"/>
<text transform="translate(84.4,626.1) rotate(-45)" font-size="13.5" font-weight="bold" fill="#231f20" text-anchor="end" stroke="#231f20" stroke-width="0.3" textLength="25.5" lengthAdjust="spacing" >CCI</text>
<text transform="translate(124.3,622.2) rotate(-45)" font-size="13.5" font-weight="bold" fill="#231f20" text-anchor="end" stroke="#231f20" stroke-width="0.3" textLength="49.5" lengthAdjust="spacing" >shRNA</text>
<text transform="translate(158.9,621.3) rotate(-45)" font-size="13.5" font-weight="bold" fill="#231f20" text-anchor="end" stroke="#231f20" stroke-width="0.3" textLength="71.8" lengthAdjust="spacing" >Scramble-</text>
<text transform="translate(160.7,639.3) rotate(-45)" font-size="13.5" font-weight="bold" fill="#231f20" text-anchor="end" stroke="#231f20" stroke-width="0.3" textLength="49.5" lengthAdjust="spacing" >shRNA</text>
<text x="197.8" y="387.5" font-size="20" font-weight="bold" fill="#231f20" text-anchor="start" stroke="#231f20" stroke-width="0.3" >e</text>
<line x1="282" y1="402.5" x2="282" y2="603.6" stroke="#000" stroke-width="1.7" stroke-linecap="butt"/>
<line x1="274" y1="403.3" x2="282" y2="403.3" stroke="#000" stroke-width="1.7" stroke-linecap="butt"/>
<text x="270.6" y="408.2" font-size="14" font-weight="bold" fill="#231f20" text-anchor="end" stroke="#231f20" stroke-width="0.3" textLength="24.95" lengthAdjust="spacing" >100</text>
<line x1="274" y1="503" x2="282" y2="503" stroke="#000" stroke-width="1.7" stroke-linecap="butt"/>
<text x="270.6" y="507.9" font-size="14" font-weight="bold" fill="#231f20" text-anchor="end" stroke="#231f20" stroke-width="0.3" textLength="16.37" lengthAdjust="spacing" >50</text>
<line x1="274" y1="602.8" x2="282" y2="602.8" stroke="#000" stroke-width="1.7" stroke-linecap="butt"/>
<text x="270.6" y="607.7" font-size="14" font-weight="bold" fill="#231f20" text-anchor="end" stroke="#231f20" stroke-width="0.3" >0</text>
<line x1="274" y1="602.8" x2="582.2" y2="602.8" stroke="#000" stroke-width="1.7" stroke-linecap="butt"/>
<line x1="281.8" y1="602.8" x2="281.8" y2="610.6" stroke="#000" stroke-width="1.7" stroke-linecap="butt"/>
<text x="281.8" y="627.8" font-size="14" font-weight="bold" fill="#231f20" text-anchor="middle" stroke="#231f20" stroke-width="0.3" >0</text>
<line x1="341.72" y1="602.8" x2="341.72" y2="610.6" stroke="#000" stroke-width="1.7" stroke-linecap="butt"/>
<text x="341.72" y="627.8" font-size="14" font-weight="bold" fill="#231f20" text-anchor="middle" stroke="#231f20" stroke-width="0.3" textLength="16.37" lengthAdjust="spacing" >20</text>
<line x1="401.64" y1="602.8" x2="401.64" y2="610.6" stroke="#000" stroke-width="1.7" stroke-linecap="butt"/>
<text x="401.64" y="627.8" font-size="14" font-weight="bold" fill="#231f20" text-anchor="middle" stroke="#231f20" stroke-width="0.3" textLength="16.37" lengthAdjust="spacing" >40</text>
<line x1="461.56" y1="602.8" x2="461.56" y2="610.6" stroke="#000" stroke-width="1.7" stroke-linecap="butt"/>
<text x="461.56" y="627.8" font-size="14" font-weight="bold" fill="#231f20" text-anchor="middle" stroke="#231f20" stroke-width="0.3" textLength="16.37" lengthAdjust="spacing" >60</text>
<line x1="521.48" y1="602.8" x2="521.48" y2="610.6" stroke="#000" stroke-width="1.7" stroke-linecap="butt"/>
<text x="521.48" y="627.8" font-size="14" font-weight="bold" fill="#231f20" text-anchor="middle" stroke="#231f20" stroke-width="0.3" textLength="16.37" lengthAdjust="spacing" >80</text>
<line x1="581.4" y1="602.8" x2="581.4" y2="610.6" stroke="#000" stroke-width="1.7" stroke-linecap="butt"/>
<text x="581.4" y="627.8" font-size="14" font-weight="bold" fill="#231f20" text-anchor="middle" stroke="#231f20" stroke-width="0.3" textLength="24.95" lengthAdjust="spacing" >100</text>
<text transform="translate(233.5,500.8) rotate(-90)" font-size="14" font-weight="bold" fill="#231f20" text-anchor="middle" stroke="#231f20" stroke-width="0.3" textLength="241" lengthAdjust="spacing" >Relative frequency (percentages)</text>
<text x="440.2" y="651.6" font-size="13.5" font-weight="bold" fill="#231f20" text-anchor="middle" stroke="#231f20" stroke-width="0.3" textLength="107" lengthAdjust="spacing" >Amplitude (pA)</text>
<polyline points="296.2,602.7 296.36,602.7 296.36,601.45 296.54,601.45 296.54,600.06 296.73,600.06 296.73,598.61 296.94,598.61 296.94,596.98 297.11,596.98 297.11,595.59 297.32,595.59 297.32,593.98 297.39,593.98 297.39,593.45 297.52,593.45 297.52,592.39 297.75,592.39 297.75,590.76 297.93,590.76 297.93,589.48 298.16,589.48 298.16,587.9 298.25,587.9 298.25,587.26 298.4,587.26 298.4,586.2 298.52,586.2 298.52,585.4 298.68,585.4 298.68,584.25 298.85,584.25 298.85,583.06 298.93,583.06 298.93,582.55 299.04,582.55 299.04,581.79 299.16,581.79 299.16,580.95 299.38,580.95 299.38,579.35 299.59,579.35 299.59,577.93 299.69,577.93 299.69,577.24 299.9,577.24 299.9,575.78 299.99,575.78 299.99,575.12 300.17,575.12 300.17,573.88 300.26,573.88 300.26,573.22 300.33,573.22 300.33,572.72 300.56,572.72 300.56,571.18 300.66,571.18 300.66,570.42 300.77,570.42 300.77,569.67 301.01,569.67 301.01,567.99 301.23,567.99 301.23,566.44 301.36,566.44 301.36,565.59 301.59,565.59 301.59,563.94 301.76,563.94 301.76,562.79 301.95,562.79 301.95,561.48 302.07,561.48 302.07,560.73 302.35,560.73 302.35,559.1 302.59,559.1 302.59,557.78 302.88,557.78 302.88,556.12 303.16,556.12 303.16,554.54 303.32,554.54 303.32,553.68 303.48,553.68 303.48,552.75 303.61,552.75 303.61,552.05 303.73,552.05 303.73,551.38 303.83,551.38 303.83,550.8 303.98,550.8 303.98,549.94 304.2,549.94 304.2,548.71 304.29,548.71 304.29,548.21 304.52,548.21 304.52,546.9 304.68,546.9 304.68,545.99 304.84,545.99 304.84,545.12 305.1,545.12 305.1,543.64 305.29,543.64 305.29,542.56 305.45,542.56 305.45,541.68 305.64,541.68 305.64,540.6 305.88,540.6 305.88,539.26 305.98,539.26 305.98,538.69 306.27,538.69 306.27,537.02 306.37,537.02 306.37,536.49 306.61,536.49 306.61,535.09 306.88,535.09 306.88,533.58 306.97,533.58 306.97,533.06 307.22,533.06 307.22,531.61 307.39,531.61 307.39,530.67 307.6,530.67 307.6,529.48 307.69,529.48 307.69,528.97 307.79,528.97 307.79,528.41 307.91,528.41 307.91,527.69 308.2,527.69 308.2,526.05 308.33,526.05 308.33,525.31 308.58,525.31 308.58,523.9 308.86,523.9 308.86,522.29 309.15,522.29 309.15,520.66 309.31,520.66 309.31,519.74 309.47,519.74 309.47,518.82 309.67,518.82 309.67,517.69 309.92,517.69 309.92,516.26 310.08,516.26 310.08,515.63 310.73,515.63 310.73,514.23 311.41,514.23 311.41,512.77 312.12,512.77 312.12,511.24 312.37,511.24 312.37,510.7 312.82,510.7 312.82,509.06 312.9,509.06 312.9,508.45 313.01,508.45 313.01,507.55 313.17,507.55 313.17,506.31 313.37,506.31 313.37,504.71 313.48,504.71 313.48,503.8 313.69,503.8 313.69,502.19 313.83,502.19 313.83,501.04 313.95,501.04 313.95,500.16 314.06,500.16 314.06,499.28 314.15,499.28 314.15,498.57 314.22,498.57 314.22,497.98 314.31,497.98 314.31,497.3 314.48,497.3 314.48,495.97 314.72,495.97 314.72,494.28 314.84,494.28 314.84,493.58 314.94,493.58 314.94,493.02 315.22,493.02 315.22,491.34 315.42,491.34 315.42,490.2 315.58,490.2 315.58,489.21 315.72,489.21 315.72,488.43 315.92,488.43 315.92,487.21 316.18,487.21 316.18,485.72 316.35,485.72 316.35,484.68 316.52,484.68 316.52,483.67 316.62,483.67 316.62,483.1 316.89,483.1 316.89,481.5 316.98,481.5 316.98,480.97 317.17,480.97 317.17,479.87 317.42,479.87 317.42,478.37 317.54,478.37 317.54,477.71 317.77,477.71 317.77,476.33 318.05,476.33 318.05,474.69 318.29,474.69 318.29,473.44 318.66,473.44 318.66,471.99 318.82,471.99 318.82,471.36 319.08,471.36 319.08,470.34 319.25,470.34 319.25,469.66 319.63,469.66 319.63,468.15 319.85,468.15 319.85,467.29 320.11,467.29 320.11,466.25 320.54,466.25 320.54,464.55 320.93,464.55 320.93,463.03 321.35,463.03 321.35,461.36 321.62,461.36 321.62,460.31 321.89,460.31 321.89,459.23 322.8,459.23 322.8,457.85 323.52,457.85 323.52,456.78 324.08,456.78 324.08,455.93 324.74,455.93 324.74,454.94 325.19,454.94 325.19,454.27 325.82,454.27 325.82,453.32 326.95,453.32 326.95,451.63 328.17,451.63 328.17,449.98 329.3,449.98 329.3,448.72 330.3,448.72 330.3,447.63 331.12,447.63 331.12,446.72 331.67,446.72 331.67,446.11 332.41,446.11 332.41,445.29 333.71,445.29 333.71,443.85 334.71,443.85 334.71,442.31 335.15,442.31 335.15,441.37 335.81,441.37 335.81,439.93 336.48,439.93 336.48,438.5 337.09,438.5 337.09,437.17 337.7,437.17 337.7,435.87 338.35,435.87 338.35,434.46 338.91,434.46 338.91,433.52 340.47,433.52 340.47,432.18 341.44,432.18 341.44,431.34 342.69,431.34 342.69,430.26 344.32,430.26 344.32,428.83 345.79,428.83 345.79,427.5 346.73,427.5 346.73,426.65 348.54,426.65 348.54,425.02 349.95,425.02 349.95,423.74 351.54,423.74 351.54,422.54 352.94,422.54 352.94,422.03 356.09,422.03 356.09,420.87 358.27,420.87 358.27,420.07 361.83,420.07 361.83,418.76 364.71,418.76 364.71,417.71 365.59,417.71 365.59,416.23 366.14,416.23 366.14,414.95 366.77,414.95 366.77,413.49 367.17,413.49 367.17,412.58 368.4,412.58 368.4,411.3 369.78,411.3 369.78,409.92 373.82,409.92 373.82,408.42 379.64,408.42 379.64,407.5 383.34,407.5 383.34,405.99 411.85,405.99 411.85,404.45 445.98,404.45 445.98,403.12 449.6,403.12 449.6,403 449.6,403" fill="none" stroke="#45a8b4" stroke-width="2.0" stroke-linejoin="round" stroke-linecap="butt"/>
<polyline points="295.4,602.7 297.18,602.7 297.18,601.25 299.01,601.25 299.01,599.76 300.33,599.76 300.33,598.68 301.33,598.68 301.33,597.87 301.95,597.87 301.95,597.37 303.51,597.37 303.51,596.07 304.04,596.07 304.04,595.01 304.74,595.01 304.74,593.59 305.21,593.59 305.21,592.65 305.91,592.65 305.91,591.22 306.32,591.22 306.32,590.39 307.04,590.39 307.04,588.93 307.72,588.93 307.72,587.56 308.06,587.56 308.06,586.56 308.42,586.56 308.42,585.41 308.83,585.41 308.83,584.1 309.05,584.1 309.05,583.36 309.41,583.36 309.41,582.2 309.87,582.2 309.87,580.73 310.12,580.73 310.12,579.91 310.58,579.91 310.58,578.45 310.99,578.45 310.99,577.13 311.46,577.13 311.46,575.61 311.74,575.61 311.74,574.71 311.93,574.71 311.93,574.1 312.38,574.1 312.38,572.64 312.84,572.64 312.84,571.17 313.16,571.17 313.16,570.14 313.35,570.14 313.35,569.53 313.58,569.53 313.58,568.79 313.9,568.79 313.9,567.53 314.1,567.53 314.1,566.68 314.48,566.68 314.48,565.04 314.76,565.04 314.76,563.83 314.94,563.83 314.94,563.09 315.24,563.09 315.24,561.8 315.45,561.8 315.45,560.87 315.83,560.87 315.83,559.25 316.2,559.25 316.2,557.66 316.46,557.66 316.46,556.54 316.76,556.54 316.76,555.27 317.07,555.27 317.07,553.93 317.41,553.93 317.41,552.47 317.8,552.47 317.8,550.79 317.92,550.79 317.92,550.26 318.14,550.26 318.14,549.33 318.43,549.33 318.43,548.1 318.63,548.1 318.63,547.24 318.94,547.24 318.94,546.03 319.11,546.03 319.11,545.42 319.57,545.42 319.57,543.87 319.9,543.87 319.9,542.74 320.08,542.74 320.08,542.1 320.46,542.1 320.46,540.8 320.72,540.8 320.72,539.93 320.93,539.93 320.93,539.19 321.24,539.19 321.24,538.11 321.44,538.11 321.44,537.45 321.66,537.45 321.66,536.69 322.11,536.69 322.11,535.16 322.5,535.16 322.5,533.82 322.65,533.82 322.65,533.3 323.06,533.3 323.06,531.87 323.22,531.87 323.22,531.35 323.48,531.35 323.48,530.45 323.94,530.45 323.94,528.86 324.27,528.86 324.27,527.62 324.5,527.62 324.5,526.75 324.76,526.75 324.76,525.8 325.02,525.8 325.02,524.83 325.19,524.83 325.19,524.18 325.65,524.18 325.65,522.48 325.8,522.48 325.8,521.92 326.07,521.92 326.07,520.91 326.45,520.91 326.45,519.51 326.71,519.51 326.71,518.53 327.16,518.53 327.16,516.86 327.37,516.86 327.37,516.06 327.82,516.06 327.82,514.39 328.24,514.39 328.24,512.82 328.59,512.82 328.59,511.51 329.01,511.51 329.01,509.95 329.17,509.95 329.17,508.91 329.41,508.91 329.41,507.41 329.65,507.41 329.65,505.96 329.83,505.96 329.83,504.84 330,504.84 330,503.77 330.21,503.77 330.21,502.42 330.37,502.42 330.37,501.43 330.47,501.43 330.47,500.83 330.69,500.83 330.69,499.43 330.82,499.43 330.82,498.62 331,498.62 331,497.53 331.23,497.53 331.23,496.09 331.34,496.09 331.34,495.38 331.44,495.38 331.44,494.86 331.64,494.86 331.64,494.21 332,494.21 332,493 332.29,493 332.29,492.07 332.53,492.07 332.53,491.26 332.85,491.26 332.85,490.22 333.33,490.22 333.33,488.61 333.58,488.61 333.58,487.8 333.88,487.8 333.88,486.81 334.35,486.81 334.35,485.25 334.72,485.25 334.72,484.02 334.97,484.02 334.97,483.2 335.29,483.2 335.29,482.13 335.62,482.13 335.62,481.05 335.82,481.05 335.82,480.38 336.11,480.38 336.11,479.43 336.37,479.43 336.37,478.56 336.82,478.56 336.82,477.1 337.09,477.1 337.09,476.21 337.48,476.21 337.48,474.92 337.98,474.92 337.98,473.25 338.47,473.25 338.47,471.64 338.75,471.64 338.75,470.69 339.12,470.69 339.12,469.47 339.39,469.47 339.39,468.59 339.69,468.59 339.69,467.61 340.02,467.61 340.02,466.52 340.46,466.52 340.46,465.07 341.03,465.07 341.03,463.45 341.74,463.45 341.74,462.6 342.17,462.6 342.17,462.09 343.04,462.09 343.04,461.05 343.52,461.05 343.52,460.48 343.97,460.48 343.97,459.95 345.17,459.95 345.17,458.52 345.7,458.52 345.7,457.88 346.84,457.88 346.84,456.52 347.62,456.52 347.62,455.59 348.56,455.59 348.56,453.96 349.15,453.96 349.15,452.44 349.37,452.44 349.37,451.86 349.65,451.86 349.65,451.13 350.28,451.13 350.28,449.49 350.75,449.49 350.75,448.26 351.14,448.26 351.14,447.25 351.69,447.25 351.69,445.81 352.26,445.81 352.26,444.34 352.68,444.34 352.68,443.25 353.09,443.25 353.09,442.18 353.32,442.18 353.32,441.56 353.68,441.56 353.68,440.63 353.94,440.63 353.94,439.95 354.42,439.95 354.42,438.7 354.89,438.7 354.89,437.48 355.15,437.48 355.15,436.8 355.77,436.8 355.77,435.55 356.25,435.55 356.25,434.93 356.73,434.93 356.73,434.31 357.72,434.31 357.72,433.03 358.53,433.03 358.53,431.98 359.75,431.98 359.75,430.4 360.72,430.4 360.72,429.14 361.76,429.14 361.76,427.8 362.26,427.8 362.26,427.15 363.42,427.15 363.42,425.65 363.89,425.65 363.89,425.05 364.85,425.05 364.85,423.81 366.31,423.81 366.31,422.21 368.31,422.21 368.31,420.62 370.29,420.62 370.29,419.05 371.61,419.05 371.61,418.01 373.61,418.01 373.61,416.68 377.57,416.68 377.57,415.23 379.38,415.23 379.38,414.56 383.83,414.56 383.83,412.93 389.98,412.93 389.98,411.34 394.39,411.34 394.39,410.31 400.62,410.31 400.62,408.88 405.8,408.88 405.8,407.84 409.96,407.84 409.96,407.01 416.74,407.01 416.74,405.65 419.62,405.65 419.62,405.08 447.68,405.08 447.68,403.62 480,403.62 480,403 480,403" fill="none" stroke="#ef2b8d" stroke-width="2.0" stroke-linejoin="round" stroke-linecap="butt"/>
<polyline points="292.2,602 293.13,602 293.13,601.11 293.85,601.11 293.85,600.43 295.2,600.43 295.2,599.15 295.81,599.15 295.81,598.56 297.01,598.56 297.01,597.42 298,597.42 298,596.48 298.5,596.48 298.5,595.91 299.1,595.91 299.1,594.8 299.39,594.8 299.39,594.26 299.94,594.26 299.94,593.24 300.25,593.24 300.25,592.65 300.58,592.65 300.58,592.04 301.12,592.04 301.12,591.03 301.92,591.03 301.92,589.54 302.27,589.54 302.27,588.89 302.68,588.89 302.68,588.13 303.35,588.13 303.35,586.87 305.64,586.87 305.64,585.24 306.98,585.24 306.98,584.04 307.38,584.04 307.38,583.07 308.05,583.07 308.05,581.4 308.27,581.4 308.27,580.84 308.89,580.84 308.89,579.31 309.23,579.31 309.23,578.46 309.5,578.46 309.5,577.79 309.75,577.79 309.75,577.15 310.1,577.15 310.1,576.28 310.7,576.28 310.7,574.8 310.99,574.8 310.99,574.08 311.47,574.08 311.47,572.88 312.22,572.88 312.22,571.62 312.8,571.62 312.8,570.67 313.51,570.67 313.51,569.51 313.86,569.51 313.86,568.94 314.21,568.94 314.21,568.37 314.66,568.37 314.66,567.62 315.19,567.62 315.19,566.3 315.36,566.3 315.36,565.29 315.5,565.29 315.5,564.41 315.69,564.41 315.69,563.21 315.85,563.21 315.85,562.17 315.99,562.17 315.99,561.31 316.22,561.31 316.22,559.85 316.43,559.85 316.43,558.51 316.56,558.51 316.56,557.72 316.75,557.72 316.75,556.53 316.93,556.53 316.93,555.4 317.17,555.4 317.17,553.85 317.39,553.85 317.39,552.48 317.52,552.48 317.52,551.63 317.79,551.63 317.79,549.95 317.89,549.95 317.89,549.31 318.05,549.31 318.05,548.31 318.28,548.31 318.28,546.9 318.38,546.9 318.38,546.22 318.56,546.22 318.56,545.13 318.64,545.13 318.64,544.59 318.88,544.59 318.88,543.28 319.24,543.28 319.24,541.87 319.53,541.87 319.53,540.68 319.92,540.68 319.92,539.13 320.14,539.13 320.14,538.25 320.48,538.25 320.48,536.92 320.79,536.92 320.79,535.7 321.09,535.7 321.09,534.51 321.35,534.51 321.35,533.46 321.73,533.46 321.73,531.95 322.14,531.95 322.14,530.32 322.41,530.32 322.41,529.25 322.73,529.25 322.73,527.95 322.88,527.95 322.88,527.38 323.21,527.38 323.21,526.04 323.44,526.04 323.44,524.76 323.75,524.76 323.75,523.07 324.01,523.07 324.01,521.58 324.17,521.58 324.17,520.74 324.34,520.74 324.34,519.78 324.57,519.78 324.57,518.48 324.67,518.48 324.67,517.95 324.86,517.95 324.86,516.9 324.98,516.9 324.98,516.19 325.1,516.19 325.1,515.55 325.2,515.55 325.2,514.98 325.46,514.98 325.46,513.56 325.58,513.56 325.58,512.91 325.72,512.91 325.72,512.11 325.89,512.11 325.89,511.14 326.18,511.14 326.18,509.59 326.31,509.59 326.31,509 326.52,509 326.52,507.96 326.76,507.96 326.76,506.8 327.08,506.8 327.08,505.24 327.39,505.24 327.39,503.76 327.71,503.76 327.71,502.22 327.88,502.22 327.88,501.38 328.09,501.38 328.09,500.39 328.28,500.39 328.28,499.46 328.6,499.46 328.6,497.89 328.94,497.89 328.94,496.25 329.08,496.25 329.08,495.56 329.25,495.56 329.25,494.85 329.49,494.85 329.49,494.07 329.74,494.07 329.74,493.29 330.08,493.29 330.08,492.21 330.46,492.21 330.46,491.01 330.72,491.01 330.72,490.19 330.88,490.19 330.88,489.69 331.2,489.69 331.2,488.68 331.5,488.68 331.5,487.74 331.87,487.74 331.87,486.56 332.39,486.56 332.39,484.92 332.81,484.92 332.81,483.59 333.17,483.59 333.17,482.47 333.56,482.47 333.56,481.23 334.05,481.23 334.05,479.92 334.26,479.92 334.26,479.35 334.86,479.35 334.86,477.77 335.41,477.77 335.41,476.34 335.99,476.34 335.99,474.79 336.55,474.79 336.55,473.33 336.92,473.33 336.92,472.36 337.29,472.36 337.29,471.38 337.52,471.38 337.52,470.76 338,470.76 338,469.49 338.24,469.49 338.24,468.92 338.48,468.92 338.48,468.34 338.8,468.34 338.8,467.59 339.09,467.59 339.09,466.89 339.47,466.89 339.47,465.99 339.7,465.99 339.7,465.42 339.91,465.42 339.91,464.92 340.2,464.92 340.2,464.24 340.46,464.24 340.46,463.62 340.85,463.62 340.85,462.68 341.07,462.68 341.07,462.15 341.71,462.15 341.71,460.6 342.23,460.6 342.23,459.37 342.49,459.37 342.49,458.69 342.8,458.69 342.8,457.89 343.15,457.89 343.15,456.97 343.5,456.97 343.5,456.03 343.75,456.03 343.75,455.38 344.32,455.38 344.32,453.87 344.97,453.87 344.97,452.17 345.37,452.17 345.37,451.11 345.78,451.11 345.78,450.03 346.01,450.03 346.01,449.43 346.24,449.43 346.24,448.81 346.59,448.81 346.59,447.9 346.88,447.9 346.88,447.08 347.41,447.08 347.41,445.58 347.65,445.58 347.65,444.89 347.84,444.89 347.84,444.36 348.42,444.36 348.42,442.72 348.82,442.72 348.82,441.59 349.05,441.59 349.05,440.91 349.46,440.91 349.46,439.76 349.65,439.76 349.65,439.23 350.05,439.23 350.05,438.09 350.64,438.09 350.64,436.42 351.44,436.42 351.44,434.88 353.48,434.88 353.48,433.55 354.42,433.55 354.42,432.74 355.51,432.74 355.51,431.8 356.32,431.8 356.32,431.09 357.97,431.09 357.97,429.67 359.28,429.67 359.28,428.53 360.91,428.53 360.91,427.09 361.93,427.09 361.93,426.2 362.8,426.2 362.8,425.43 364.51,425.43 364.51,423.96 366.62,423.96 366.62,422.28 368.54,422.28 368.54,420.75 370.39,420.75 370.39,419.28 373.02,419.28 373.02,417.8 376.54,417.8 376.54,416.42 378.5,416.42 378.5,415.64 381.34,415.64 381.34,414.52 383.7,414.52 383.7,413.6 384.91,413.6 384.91,413.06 385.72,413.06 385.72,412.53 386.99,412.53 386.99,411.69 388.22,411.69 388.22,410.88 392.82,410.88 392.82,409.55 400.75,409.55 400.75,407.9 404.68,407.9 404.68,406.86 410.85,406.86 410.85,405.24 452.77,405.24 452.77,403.55 512,403.55 512,402.9 512,402.9" fill="none" stroke="#f0393f" stroke-width="2.0" stroke-linejoin="round" stroke-linecap="butt"/>
<line x1="411.8" y1="497.9" x2="433.4" y2="497.9" stroke="#ef4048" stroke-width="2.2" stroke-linecap="butt"/>
<text x="445.2" y="503.1" font-size="14" font-weight="bold" fill="#231f20" text-anchor="start" stroke="#231f20" stroke-width="0.3" textLength="25.8" lengthAdjust="spacingAndGlyphs" >CCI</text>
<line x1="411.8" y1="524.7" x2="433.4" y2="524.7" stroke="#44a8b4" stroke-width="2.2" stroke-linecap="butt"/>
<text x="445.2" y="529.9" font-size="14" font-weight="bold" fill="#231f20" text-anchor="start" stroke="#231f20" stroke-width="0.3" textLength="49.6" lengthAdjust="spacingAndGlyphs" >shRNA</text>
<line x1="411.8" y1="551.5" x2="433.4" y2="551.5" stroke="#e8288c" stroke-width="2.2" stroke-linecap="butt"/>
<text x="445.2" y="556.7" font-size="14" font-weight="bold" fill="#231f20" text-anchor="start" stroke="#231f20" stroke-width="0.3" textLength="121" lengthAdjust="spacingAndGlyphs" >Scramble shRNA</text>
<text x="7.5" y="716.3" font-size="20" font-weight="bold" fill="#231f20" text-anchor="start" stroke="#231f20" stroke-width="0.3" >f</text>
<text x="47.3" y="704.9" font-size="13.5" font-weight="bold" fill="#e8383d" text-anchor="start" stroke="#e8383d" stroke-width="0.3" textLength="24.8" lengthAdjust="spacing" >CCI</text>
<text x="229.1" y="705" font-size="13.5" font-weight="bold" fill="#4aa3b0" text-anchor="start" stroke="#4aa3b0" stroke-width="0.3" textLength="49.3" lengthAdjust="spacing" >shRNA</text>
<text x="418.4" y="705.5" font-size="13.5" font-weight="bold" fill="#ec338c" text-anchor="start" stroke="#ec338c" stroke-width="0.3" textLength="122.8" lengthAdjust="spacing" >Scramble-shRNA</text>
<polyline points="49,715.4 55.2,715.4 56.5,714.2 56.5,706.6 57.2,780 59,720.6 59.19,721.64 59.45,722.99 59.76,724.64 60.1,726.54 60.46,728.67 60.8,731 61.15,733.73 61.52,736.94 61.9,740.37 62.28,743.79 62.65,746.94 63,749.6 63.33,751.74 63.64,753.57 63.94,755.14 64.23,756.51 64.52,757.74 64.8,758.9 65.07,760.01 65.33,761.01 65.58,761.89 65.84,762.59 66.11,763.07 66.4,763.3 66.69,763.28 66.98,763.03 67.27,762.57 67.61,761.91 68.01,761.05 68.5,760 69.09,758.73 69.75,757.23 70.48,755.53 71.26,753.66 72.07,751.68 72.9,749.6 73.75,747.29 74.64,744.7 75.57,741.98 76.52,739.3 77.5,736.82 78.5,734.7 79.53,732.96 80.58,731.48 81.66,730.2 82.76,729.06 83.88,728.01 85,727 86.13,726.04 87.26,725.2 88.41,724.44 89.57,723.75 90.77,723.11 92,722.5 93.25,721.93 94.52,721.43 95.81,720.97 97.15,720.55 98.54,720.17 100,719.8 101.55,719.46 103.19,719.16 104.88,718.89 106.59,718.65 108.31,718.42 110,718.2 111.67,717.99 113.33,717.81 115,717.64 116.67,717.48 118.33,717.34 120,717.2 121.69,717.07 123.41,716.96 125.14,716.85 126.83,716.76 128.46,716.67 130,716.6 131.52,716.54 133.05,716.5 134.53,716.46 135.86,716.44 136.98,716.42 137.8,716.4 138.6,715.4 138.6,706.2 139.4,780 141.4,721.2 141.64,722.19 141.97,723.53 142.36,725.13 142.79,726.91 143.21,728.8 143.6,730.7 143.97,732.73 144.35,734.99 144.72,737.34 145.1,739.68 145.46,741.87 145.8,743.8 146.13,745.5 146.44,747.09 146.74,748.52 147.04,749.8 147.32,750.9 147.6,751.8 147.85,752.51 148.06,753.06 148.26,753.42 148.48,753.59 148.75,753.55 149.1,753.3 149.54,752.78 150.06,751.99 150.62,750.99 151.21,749.85 151.81,748.63 152.4,747.4 152.96,746.11 153.51,744.71 154.06,743.23 154.65,741.71 155.29,740.19 156,738.7 156.8,737.2 157.68,735.65 158.61,734.09 159.57,732.59 160.54,731.17 161.5,729.9 162.43,728.78 163.36,727.76 164.29,726.84 165.24,726 166.24,725.22 167.3,724.5 168.42,723.85 169.58,723.28 170.79,722.78 172.03,722.33 173.3,721.91 174.6,721.5 175.93,721.11 177.3,720.76 178.69,720.44 180.11,720.14 181.55,719.86 183,719.6 184.45,719.35 185.92,719.13 187.4,718.93 188.9,718.74 190.44,718.57 192,718.4 193.59,718.24 195.2,718.09 196.83,717.95 198.5,717.82 200.22,717.71 202,717.6 203.99,717.51 206.21,717.42 208.47,717.35 210.6,717.29 212.41,717.24 213.7,717.2" fill="none" stroke="#e2666d" stroke-width="0.95" stroke-linejoin="round" stroke-linecap="butt"/>
<path d="M56.6,706.6L56.6,780M57.3,716.6L57.3,780" stroke="#e2666d" stroke-width="1.2" stroke-opacity="0.75" fill="none"/>
<path d="M138.7,706.2L138.7,780M139.5,716.2L139.5,780" stroke="#e2666d" stroke-width="1.2" stroke-opacity="0.75" fill="none"/>
<polyline points="236.5,715.3 243,715.3 244.1,714.2 244.1,706.6 244.9,780 245.2,716.8 245.35,716.64 245.56,716.4 245.81,716.12 246.07,715.84 246.34,715.59 246.6,715.4 246.85,715.26 247.1,715.13 247.36,715.04 247.61,714.98 247.86,714.96 248.1,715 248.33,715.09 248.56,715.22 248.79,715.4 249,715.62 249.21,715.89 249.4,716.2 249.57,716.49 249.71,716.74 249.84,717.04 249.97,717.46 250.12,718.09 250.3,719 250.51,720.22 250.73,721.69 250.97,723.36 251.23,725.2 251.5,727.16 251.8,729.2 252.14,731.49 252.51,734.1 252.91,736.84 253.31,739.5 253.68,741.88 254,743.8 254.27,745.21 254.5,746.25 254.71,747.02 254.91,747.61 255.1,748.11 255.3,748.6 255.48,749.1 255.63,749.54 255.78,749.89 255.95,750.11 256.18,750.16 256.5,750 256.92,749.6 257.4,748.98 257.95,748.19 258.54,747.29 259.16,746.3 259.8,745.3 260.48,744.2 261.21,742.97 261.98,741.66 262.75,740.34 263.5,739.1 264.2,738 264.83,737.05 265.4,736.2 265.95,735.42 266.51,734.68 267.12,733.95 267.8,733.2 268.57,732.43 269.39,731.67 270.26,730.93 271.16,730.19 272.08,729.48 273,728.8 273.93,728.15 274.87,727.51 275.84,726.91 276.81,726.32 277.8,725.75 278.8,725.2 279.79,724.66 280.77,724.14 281.76,723.64 282.79,723.17 283.86,722.72 285,722.3 286.22,721.92 287.5,721.57 288.82,721.25 290.19,720.95 291.59,720.67 293,720.4 294.43,720.14 295.89,719.91 297.38,719.69 298.89,719.48 300.43,719.29 302,719.1 303.57,718.92 305.14,718.76 306.73,718.61 308.39,718.47 310.13,718.33 312,718.2 314.18,718.06 316.68,717.93 319.27,717.79 321.73,717.67 323.81,717.57 325.3,717.5 326.2,716.5 326.2,706.2 327.1,780 327.9,719.7 328.12,719.45 328.43,719.04 328.79,718.59 329.19,718.19 329.6,717.93 330,717.9 330.42,718.1 330.89,718.45 331.36,718.94 331.83,719.56 332.25,720.32 332.6,721.2 332.87,722.18 333.08,723.27 333.24,724.49 333.39,725.87 333.53,727.43 333.7,729.2 333.88,731.21 334.06,733.44 334.23,735.86 334.41,738.42 334.6,741.08 334.8,743.8 335.01,746.7 335.24,749.84 335.48,753.08 335.71,756.28 335.96,759.3 336.2,762 336.45,764.44 336.71,766.75 336.97,768.88 337.23,770.77 337.47,772.4 337.7,773.7 337.9,774.63 338.07,775.22 338.23,775.53 338.4,775.64 338.58,775.6 338.8,775.5 339.05,775.32 339.31,775.01 339.59,774.56 339.89,773.97 340.23,773.22 340.6,772.3 341.01,771.18 341.46,769.86 341.93,768.38 342.43,766.8 342.96,765.15 343.5,763.5 344.07,761.78 344.68,759.94 345.31,758.05 345.94,756.16 346.58,754.32 347.2,752.6 347.79,751 348.35,749.48 348.91,748.02 349.49,746.6 350.11,745.2 350.8,743.8 351.57,742.39 352.39,740.97 353.26,739.57 354.16,738.22 355.08,736.96 356,735.8 356.93,734.76 357.87,733.81 358.84,732.94 359.81,732.14 360.8,731.39 361.8,730.7 362.79,730.08 363.77,729.55 364.76,729.08 365.79,728.63 366.86,728.18 368,727.7 369.22,727.18 370.5,726.64 371.82,726.11 373.19,725.58 374.59,725.07 376,724.6 377.44,724.16 378.93,723.74 380.44,723.35 381.96,722.98 383.49,722.63 385,722.3 386.52,722 388.07,721.71 389.62,721.46 391.15,721.22 392.62,721 394,720.8 395.36,720.62 396.74,720.45 398.06,720.31 399.26,720.18 400.26,720.08 401,720" fill="none" stroke="#62bcc3" stroke-width="0.95" stroke-linejoin="round" stroke-linecap="butt"/>
<path d="M244.1,706.6L244.1,780M244.9,716.6L244.9,780" stroke="#62bcc3" stroke-width="1.2" stroke-opacity="0.75" fill="none"/>
<path d="M326.2,706.2L326.2,780M327.1,716.2L327.1,780" stroke="#62bcc3" stroke-width="1.2" stroke-opacity="0.75" fill="none"/>
<polyline points="427.9,715.3 434.9,715.3 435.6,714.2 435.6,706.6 436.3,780 437.4,723.4 437.51,722.78 437.65,721.81 437.82,720.73 438.01,719.72 438.21,719.01 438.4,718.8 438.59,719.16 438.79,719.94 438.99,721.01 439.2,722.26 439.4,723.56 439.6,724.8 439.78,726 439.96,727.26 440.13,728.58 440.31,729.95 440.49,731.36 440.7,732.8 440.92,734.35 441.16,736.02 441.41,737.73 441.66,739.4 441.93,740.95 442.2,742.3 442.49,743.45 442.79,744.47 443.11,745.37 443.42,746.16 443.72,746.83 444,747.4 444.25,747.87 444.47,748.25 444.68,748.52 444.89,748.66 445.13,748.66 445.4,748.5 445.71,748.16 446.05,747.64 446.41,746.98 446.79,746.21 447.18,745.37 447.6,744.5 448.03,743.55 448.49,742.5 448.96,741.37 449.45,740.21 449.96,739.08 450.5,738 451.07,736.96 451.68,735.92 452.31,734.89 452.94,733.9 453.58,732.97 454.2,732.1 454.79,731.33 455.35,730.65 455.91,730.02 456.49,729.41 457.11,728.79 457.8,728.1 458.57,727.33 459.39,726.49 460.26,725.64 461.16,724.81 462.08,724.05 463,723.4 463.93,722.88 464.87,722.46 465.84,722.11 466.81,721.8 467.8,721.5 468.8,721.2 469.77,720.89 470.7,720.6 471.64,720.33 472.64,720.07 473.74,719.83 475,719.6 476.41,719.4 477.94,719.22 479.57,719.06 481.3,718.91 483.12,718.76 485,718.6 487,718.43 489.15,718.24 491.38,718.06 493.63,717.89 495.86,717.73 498,717.6 500.11,717.49 502.25,717.41 504.36,717.34 506.39,717.28 508.29,717.24 510,717.2 511.56,717.18 513.02,717.17 514.35,717.18 515.51,717.19 516.47,717.2 517.2,717.2 517.8,716.2 517.8,706.6 518.5,780 520.7,719.7 520.87,720.15 521.11,720.73 521.39,721.44 521.68,722.26 521.96,723.15 522.2,724.1 522.39,725.12 522.55,726.24 522.7,727.43 522.85,728.7 523.01,730.02 523.2,731.4 523.41,732.89 523.62,734.51 523.85,736.2 524.1,737.87 524.38,739.46 524.7,740.9 525.07,742.27 525.47,743.66 525.91,744.97 526.37,746.09 526.84,746.94 527.3,747.4 527.75,747.44 528.2,747.11 528.66,746.51 529.14,745.7 529.65,744.77 530.2,743.8 530.8,742.7 531.44,741.38 532.11,739.94 532.8,738.47 533.5,737.06 534.2,735.8 534.89,734.68 535.59,733.63 536.29,732.64 537.01,731.7 537.78,730.79 538.6,729.9 539.48,729.02 540.43,728.17 541.41,727.34 542.41,726.57 543.41,725.85 544.4,725.2 545.39,724.63 546.4,724.13 547.42,723.69 548.42,723.3 549.38,722.94 550.3,722.6 551.14,722.3 551.9,722.04 552.63,721.83 553.37,721.62 554.14,721.42 555,721.2 555.84,720.97 556.6,720.74 557.41,720.52 558.37,720.29 559.59,720.05 561.2,719.8 563.28,719.52 565.75,719.21 568.49,718.9 571.37,718.6 574.25,718.32 577,718.1 579.83,717.93 582.88,717.8 585.94,717.69 588.77,717.61 591.17,717.55 592.9,717.5" fill="none" stroke="#dc5aaa" stroke-width="0.95" stroke-linejoin="round" stroke-linecap="butt"/>
<path d="M435.6,706.6L435.6,780M436.3,716.6L436.3,780" stroke="#dc5aaa" stroke-width="1.2" stroke-opacity="0.75" fill="none"/>
<path d="M517.8,706.6L517.8,780M518.5,716.6L518.5,780" stroke="#dc5aaa" stroke-width="1.2" stroke-opacity="0.75" fill="none"/>
<polyline points="567.1,752 567.1,768.9 599.7,768.9" fill="none" stroke="#3a3434" stroke-width="1.3" stroke-linejoin="miter" stroke-linecap="butt"/>
<text x="570.7" y="760" font-size="10.6" font-weight="bold" fill="#231f20" text-anchor="start" stroke="#231f20" stroke-width="0.3" textLength="27.2" lengthAdjust="spacingAndGlyphs" >40pA</text>
<text x="570.7" y="781.2" font-size="10.6" font-weight="bold" fill="#231f20" text-anchor="start" stroke="#231f20" stroke-width="0.3" textLength="27.8" lengthAdjust="spacingAndGlyphs" >20ms</text>
<text x="6.2" y="832.4" font-size="20" font-weight="bold" fill="#231f20" text-anchor="start" stroke="#231f20" stroke-width="0.3" >g</text>
<line x1="70.2" y1="858.5" x2="70.2" y2="1060.1" stroke="#000" stroke-width="1.7" stroke-linecap="butt"/>
<line x1="62" y1="859.3" x2="70.2" y2="859.3" stroke="#000" stroke-width="1.7" stroke-linecap="butt"/>
<text x="58.6" y="865.4" font-size="14" font-weight="bold" fill="#231f20" text-anchor="end" stroke="#231f20" stroke-width="0.3" >4</text>
<line x1="62" y1="909.3" x2="70.2" y2="909.3" stroke="#000" stroke-width="1.7" stroke-linecap="butt"/>
<text x="58.6" y="915.4" font-size="14" font-weight="bold" fill="#231f20" text-anchor="end" stroke="#231f20" stroke-width="0.3" >3</text>
<line x1="62" y1="959.3" x2="70.2" y2="959.3" stroke="#000" stroke-width="1.7" stroke-linecap="butt"/>
<text x="58.6" y="965.4" font-size="14" font-weight="bold" fill="#231f20" text-anchor="end" stroke="#231f20" stroke-width="0.3" >2</text>
<line x1="62" y1="1009.3" x2="70.2" y2="1009.3" stroke="#000" stroke-width="1.7" stroke-linecap="butt"/>
<text x="58.6" y="1015.4" font-size="14" font-weight="bold" fill="#231f20" text-anchor="end" stroke="#231f20" stroke-width="0.3" >1</text>
<line x1="62" y1="1059.3" x2="70.2" y2="1059.3" stroke="#000" stroke-width="1.7" stroke-linecap="butt"/>
<text x="58.6" y="1065.4" font-size="14" font-weight="bold" fill="#231f20" text-anchor="end" stroke="#231f20" stroke-width="0.3" >0</text>
<line x1="62" y1="1059.3" x2="204.3" y2="1059.3" stroke="#000" stroke-width="1.7" stroke-linecap="butt"/>
<line x1="96.6" y1="1059.3" x2="96.6" y2="1066.8" stroke="#000" stroke-width="1.7" stroke-linecap="butt"/>
<line x1="136.6" y1="1059.3" x2="136.6" y2="1066.8" stroke="#000" stroke-width="1.7" stroke-linecap="butt"/>
<line x1="176.7" y1="1059.3" x2="176.7" y2="1066.8" stroke="#000" stroke-width="1.7" stroke-linecap="butt"/>
<text transform="translate(37.6,956.7) rotate(-90)" font-size="14" font-weight="bold" fill="#231f20" text-anchor="middle" stroke="#231f20" stroke-width="0.3" textLength="29.6" lengthAdjust="spacing" >PPR</text>
<rect x="84.2" y="1011.3" width="24.6" height="48" fill="#f33e42" stroke="#000" stroke-width="2"/>
<rect x="124.6" y="977.5" width="23.9" height="81.8" fill="#4aa5af" stroke="#000" stroke-width="2"/>
<rect x="164.4" y="1006.5" width="24.6" height="52.8" fill="#f42c8c" stroke="#000" stroke-width="2"/>
<circle cx="86.6" cy="1005.9" r="3" fill="none" stroke="#000" stroke-width="1.1"/>
<circle cx="93.3" cy="1004" r="3" fill="none" stroke="#000" stroke-width="1.1"/>
<circle cx="100.1" cy="1008.4" r="3" fill="none" stroke="#000" stroke-width="1.1"/>
<circle cx="107" cy="1007.4" r="3" fill="none" stroke="#000" stroke-width="1.1"/>
<circle cx="86.6" cy="1013.8" r="3" fill="none" stroke="#000" stroke-width="1.1"/>
<circle cx="93.3" cy="1019.3" r="3" fill="none" stroke="#000" stroke-width="1.1"/>
<circle cx="100.1" cy="1017.2" r="3" fill="none" stroke="#000" stroke-width="1.1"/>
<line x1="96.5" y1="1007.2" x2="96.5" y2="1011.8" stroke="#000" stroke-width="1.1" stroke-linecap="butt"/>
<line x1="90.3" y1="1007.2" x2="102.7" y2="1007.2" stroke="#000" stroke-width="1.1" stroke-linecap="butt"/>
<line x1="90.3" y1="1011.8" x2="102.7" y2="1011.8" stroke="#000" stroke-width="1.1" stroke-linecap="butt"/>
<circle cx="136.6" cy="886" r="3" fill="none" stroke="#000" stroke-width="1.1"/>
<circle cx="136.6" cy="973.1" r="3" fill="none" stroke="#000" stroke-width="1.1"/>
<circle cx="130.5" cy="980.7" r="3" fill="none" stroke="#000" stroke-width="1.1"/>
<circle cx="142.8" cy="981.1" r="3" fill="none" stroke="#000" stroke-width="1.1"/>
<circle cx="136.6" cy="988.2" r="3" fill="none" stroke="#000" stroke-width="1.1"/>
<circle cx="136.6" cy="1006.6" r="3" fill="none" stroke="#000" stroke-width="1.1"/>
<circle cx="136.6" cy="1021.1" r="3" fill="none" stroke="#000" stroke-width="1.1"/>
<line x1="136.6" y1="960.5" x2="136.6" y2="993.4" stroke="#000" stroke-width="1.1" stroke-linecap="butt"/>
<line x1="130.4" y1="960.5" x2="142.8" y2="960.5" stroke="#000" stroke-width="1.1" stroke-linecap="butt"/>
<line x1="130.4" y1="993.4" x2="142.8" y2="993.4" stroke="#000" stroke-width="1.1" stroke-linecap="butt"/>
<circle cx="176.2" cy="969.4" r="3" fill="none" stroke="#000" stroke-width="1.1"/>
<circle cx="166.4" cy="1005" r="3" fill="none" stroke="#000" stroke-width="1.1"/>
<circle cx="179.9" cy="1001.5" r="3" fill="none" stroke="#000" stroke-width="1.1"/>
<circle cx="186.9" cy="1005.5" r="3" fill="none" stroke="#000" stroke-width="1.1"/>
<circle cx="173.3" cy="1008.4" r="3" fill="none" stroke="#000" stroke-width="1.1"/>
<circle cx="179.9" cy="1010.1" r="3" fill="none" stroke="#000" stroke-width="1.1"/>
<circle cx="169.6" cy="1018.6" r="3" fill="none" stroke="#000" stroke-width="1.1"/>
<circle cx="176.5" cy="1017.2" r="3" fill="none" stroke="#000" stroke-width="1.1"/>
<circle cx="183.5" cy="1017.9" r="3" fill="none" stroke="#000" stroke-width="1.1"/>
<line x1="176.6" y1="1000.8" x2="176.6" y2="1010.6" stroke="#000" stroke-width="1.1" stroke-linecap="butt"/>
<line x1="170.4" y1="1000.8" x2="182.8" y2="1000.8" stroke="#000" stroke-width="1.1" stroke-linecap="butt"/>
<line x1="170.4" y1="1010.6" x2="182.8" y2="1010.6" stroke="#000" stroke-width="1.1" stroke-linecap="butt"/>
<polyline points="96.6,850.2 96.6,820.1 176.9,820.1 176.9,957.3" fill="none" stroke="#000" stroke-width="1.7" stroke-linejoin="miter" stroke-linecap="butt"/>
<text x="135.4" y="810.3" font-size="14" font-weight="normal" fill="#231f20" text-anchor="middle" stroke="#231f20" stroke-width="0.3" >ns</text>
<polyline points="96.6,992.3 96.6,862 137.4,862 137.4,873.2" fill="none" stroke="#000" stroke-width="1.7" stroke-linejoin="miter" stroke-linecap="butt"/>
<path d="M117.5,844.3L117.5,851.9M113.56,845.83L121.44,850.38M113.56,850.38L121.44,845.83" stroke="#000" stroke-width="1.95" stroke-linecap="round" fill="none"/>
<text transform="translate(100.3,1077.3) rotate(-45)" font-size="13.5" font-weight="bold" fill="#231f20" text-anchor="end" stroke="#231f20" stroke-width="0.3" textLength="25.5" lengthAdjust="spacing" >CCI</text>
<text transform="translate(145.1,1074.9) rotate(-45)" font-size="13.5" font-weight="bold" fill="#231f20" text-anchor="end" stroke="#231f20" stroke-width="0.3" textLength="49.5" lengthAdjust="spacing" >shRNA</text>
<text transform="translate(180.6,1073) rotate(-45)" font-size="13.5" font-weight="bold" fill="#231f20" text-anchor="end" stroke="#231f20" stroke-width="0.3" textLength="71.8" lengthAdjust="spacing" >Scramble-</text>
<text transform="translate(181,1093.7) rotate(-45)" font-size="13.5" font-weight="bold" fill="#231f20" text-anchor="end" stroke="#231f20" stroke-width="0.3" textLength="49.5" lengthAdjust="spacing" >shRNA</text>
<text x="229.3" y="836.6" font-size="20" font-weight="bold" fill="#231f20" text-anchor="start" stroke="#231f20" stroke-width="0.3" >h</text>
<line x1="275.4" y1="858.45" x2="275.4" y2="1060" stroke="#000" stroke-width="1.7" stroke-linecap="butt"/>
<line x1="267" y1="859.25" x2="275.4" y2="859.25" stroke="#000" stroke-width="1.7" stroke-linecap="butt"/>
<text x="263.6" y="864.85" font-size="14" font-weight="bold" fill="#231f20" text-anchor="end" stroke="#231f20" stroke-width="0.3" textLength="16.37" lengthAdjust="spacing" >15</text>
<line x1="267" y1="925.9" x2="275.4" y2="925.9" stroke="#000" stroke-width="1.7" stroke-linecap="butt"/>
<text x="263.6" y="931.5" font-size="14" font-weight="bold" fill="#231f20" text-anchor="end" stroke="#231f20" stroke-width="0.3" textLength="16.37" lengthAdjust="spacing" >10</text>
<line x1="267" y1="992.55" x2="275.4" y2="992.55" stroke="#000" stroke-width="1.7" stroke-linecap="butt"/>
<text x="263.6" y="998.15" font-size="14" font-weight="bold" fill="#231f20" text-anchor="end" stroke="#231f20" stroke-width="0.3" >5</text>
<line x1="267" y1="1059.2" x2="275.4" y2="1059.2" stroke="#000" stroke-width="1.7" stroke-linecap="butt"/>
<text x="263.6" y="1064.8" font-size="14" font-weight="bold" fill="#231f20" text-anchor="end" stroke="#231f20" stroke-width="0.3" >0</text>
<line x1="267" y1="1059.2" x2="408.7" y2="1059.2" stroke="#000" stroke-width="1.7" stroke-linecap="butt"/>
<line x1="301.6" y1="1059.2" x2="301.6" y2="1066.7" stroke="#000" stroke-width="1.7" stroke-linecap="butt"/>
<line x1="341.6" y1="1059.2" x2="341.6" y2="1066.7" stroke="#000" stroke-width="1.7" stroke-linecap="butt"/>
<line x1="381.7" y1="1059.2" x2="381.7" y2="1066.7" stroke="#000" stroke-width="1.7" stroke-linecap="butt"/>
<text transform="translate(236.1,955) rotate(-90)" font-size="14" font-weight="bold" fill="#231f20" text-anchor="middle" stroke="#231f20" stroke-width="0.3" textLength="106.5" lengthAdjust="spacing" >glutamate (μM)</text>
<rect x="289.8" y="928.8" width="23.7" height="130.4" fill="#f33e42" stroke="#000" stroke-width="2"/>
<rect x="330" y="993.9" width="23.5" height="65.3" fill="#4aa5af" stroke="#000" stroke-width="2"/>
<rect x="369.8" y="941.8" width="23.7" height="117.4" fill="#f42c8c" stroke="#000" stroke-width="2"/>
<circle cx="301.5" cy="891.7" r="3" fill="none" stroke="#000" stroke-width="1.1"/>
<circle cx="301.5" cy="906.6" r="3" fill="none" stroke="#000" stroke-width="1.1"/>
<circle cx="301.5" cy="933.4" r="3" fill="none" stroke="#000" stroke-width="1.1"/>
<circle cx="301.5" cy="948.3" r="3" fill="none" stroke="#000" stroke-width="1.1"/>
<circle cx="301.5" cy="956.6" r="3" fill="none" stroke="#000" stroke-width="1.1"/>
<line x1="301.5" y1="915.4" x2="301.5" y2="939.9" stroke="#000" stroke-width="1.1" stroke-linecap="butt"/>
<line x1="295.3" y1="915.4" x2="307.7" y2="915.4" stroke="#000" stroke-width="1.1" stroke-linecap="butt"/>
<line x1="295.3" y1="939.9" x2="307.7" y2="939.9" stroke="#000" stroke-width="1.1" stroke-linecap="butt"/>
<circle cx="341.3" cy="953.6" r="3" fill="none" stroke="#000" stroke-width="1.1"/>
<circle cx="335.6" cy="977.4" r="3" fill="none" stroke="#000" stroke-width="1.1"/>
<circle cx="347.9" cy="975.9" r="3" fill="none" stroke="#000" stroke-width="1.1"/>
<circle cx="341.3" cy="994.9" r="3" fill="none" stroke="#000" stroke-width="1.1"/>
<circle cx="335.2" cy="1006.6" r="3" fill="none" stroke="#000" stroke-width="1.1"/>
<circle cx="347.9" cy="1007" r="3" fill="none" stroke="#000" stroke-width="1.1"/>
<circle cx="341.3" cy="1030.1" r="3" fill="none" stroke="#000" stroke-width="1.1"/>
<line x1="341.5" y1="982.8" x2="341.5" y2="1001.5" stroke="#000" stroke-width="1.1" stroke-linecap="butt"/>
<line x1="335.3" y1="982.8" x2="347.7" y2="982.8" stroke="#000" stroke-width="1.1" stroke-linecap="butt"/>
<line x1="335.3" y1="1001.5" x2="347.7" y2="1001.5" stroke="#000" stroke-width="1.1" stroke-linecap="butt"/>
<circle cx="381.6" cy="905.4" r="3" fill="none" stroke="#000" stroke-width="1.1"/>
<circle cx="381.6" cy="925" r="3" fill="none" stroke="#000" stroke-width="1.1"/>
<circle cx="381.6" cy="932.2" r="3" fill="none" stroke="#000" stroke-width="1.1"/>
<circle cx="375.5" cy="942.2" r="3" fill="none" stroke="#000" stroke-width="1.1"/>
<circle cx="387.4" cy="945.7" r="3" fill="none" stroke="#000" stroke-width="1.1"/>
<circle cx="381.6" cy="991.3" r="3" fill="none" stroke="#000" stroke-width="1.1"/>
<line x1="381.6" y1="928.2" x2="381.6" y2="951.8" stroke="#000" stroke-width="1.1" stroke-linecap="butt"/>
<line x1="375.4" y1="928.2" x2="387.8" y2="928.2" stroke="#000" stroke-width="1.1" stroke-linecap="butt"/>
<line x1="375.4" y1="951.8" x2="387.8" y2="951.8" stroke="#000" stroke-width="1.1" stroke-linecap="butt"/>
<line x1="301.8" y1="826.4" x2="381.5" y2="826.4" stroke="#000" stroke-width="1.7" stroke-linecap="butt"/>
<text x="340.3" y="816.9" font-size="14" font-weight="normal" fill="#231f20" text-anchor="middle" stroke="#231f20" stroke-width="0.3" >ns</text>
<line x1="301.8" y1="868.7" x2="341.9" y2="868.7" stroke="#000" stroke-width="1.7" stroke-linecap="butt"/>
<path d="M315.6,851.3L315.6,858.3M311.96,852.7L319.24,856.9M311.96,856.9L319.24,852.7" stroke="#000" stroke-width="1.95" stroke-linecap="round" fill="none"/>
<path d="M328.7,851.3L328.7,858.3M325.06,852.7L332.34,856.9M325.06,856.9L332.34,852.7" stroke="#000" stroke-width="1.95" stroke-linecap="round" fill="none"/>
<text transform="translate(306.2,1075.8) rotate(-45)" font-size="13.5" font-weight="bold" fill="#231f20" text-anchor="end" stroke="#231f20" stroke-width="0.3" textLength="25.5" lengthAdjust="spacing" >CCI</text>
<text transform="translate(350.6,1073.1) rotate(-45)" font-size="13.5" font-weight="bold" fill="#231f20" text-anchor="end" stroke="#231f20" stroke-width="0.3" textLength="49.5" lengthAdjust="spacing" >shRNA</text>
<text transform="translate(385.7,1071.8) rotate(-45)" font-size="13.5" font-weight="bold" fill="#231f20" text-anchor="end" stroke="#231f20" stroke-width="0.3" textLength="71.8" lengthAdjust="spacing" >Scramble-</text>
<text transform="translate(386.9,1091.1) rotate(-45)" font-size="13.5" font-weight="bold" fill="#231f20" text-anchor="end" stroke="#231f20" stroke-width="0.3" textLength="49.5" lengthAdjust="spacing" >shRNA</text>
<text x="428.5" y="833.1" font-size="20" font-weight="bold" fill="#231f20" text-anchor="start" stroke="#231f20" stroke-width="0.3" >i</text>
<line x1="483.9" y1="876.6" x2="483.9" y2="1060" stroke="#000" stroke-width="1.7" stroke-linecap="butt"/>
<line x1="476.4" y1="877.4" x2="483.9" y2="877.4" stroke="#000" stroke-width="1.7" stroke-linecap="butt"/>
<text x="473.9" y="882.6" font-size="14" font-weight="bold" fill="#231f20" text-anchor="end" stroke="#231f20" stroke-width="0.3" >3</text>
<line x1="476.4" y1="938" x2="483.9" y2="938" stroke="#000" stroke-width="1.7" stroke-linecap="butt"/>
<text x="473.9" y="943.2" font-size="14" font-weight="bold" fill="#231f20" text-anchor="end" stroke="#231f20" stroke-width="0.3" >2</text>
<line x1="476.4" y1="998.6" x2="483.9" y2="998.6" stroke="#000" stroke-width="1.7" stroke-linecap="butt"/>
<text x="473.9" y="1003.8" font-size="14" font-weight="bold" fill="#231f20" text-anchor="end" stroke="#231f20" stroke-width="0.3" >1</text>
<line x1="476.4" y1="1059.2" x2="483.9" y2="1059.2" stroke="#000" stroke-width="1.7" stroke-linecap="butt"/>
<text x="473.9" y="1064.4" font-size="14" font-weight="bold" fill="#231f20" text-anchor="end" stroke="#231f20" stroke-width="0.3" >0</text>
<line x1="476.1" y1="1059.1" x2="666" y2="1059.1" stroke="#000" stroke-width="1.7" stroke-linecap="butt"/>
<line x1="535" y1="1059.1" x2="535" y2="1066.5" stroke="#000" stroke-width="1.7" stroke-linecap="butt"/>
<text x="535" y="1081" font-size="14" font-weight="bold" fill="#231f20" text-anchor="middle" stroke="#231f20" stroke-width="0.3" >0</text>
<line x1="612.9" y1="1059.1" x2="612.9" y2="1066.5" stroke="#000" stroke-width="1.7" stroke-linecap="butt"/>
<text x="612.9" y="1081" font-size="14" font-weight="bold" fill="#231f20" text-anchor="middle" stroke="#231f20" stroke-width="0.3" textLength="16.37" lengthAdjust="spacing" >21</text>
<text x="571.7" y="1094" font-size="13.5" font-weight="bold" fill="#3a3030" text-anchor="middle" stroke="#3a3030" stroke-width="0.3" textLength="26.5" lengthAdjust="spacing" >Day</text>
<text transform="translate(449.7,967.7) rotate(-90)" font-size="14" font-weight="bold" fill="#231f20" text-anchor="middle" stroke="#231f20" stroke-width="0.3" textLength="261" lengthAdjust="spacing" >Mechanical withdrawal threshold (g)</text>
<circle cx="496.1" cy="829.3" r="3.9" fill="#ef4048" stroke="none" stroke-width="0"/>
<text x="516.1" y="834.2" font-size="14" font-weight="bold" fill="#231f20" text-anchor="start" stroke="#231f20" stroke-width="0.3" textLength="25" lengthAdjust="spacingAndGlyphs" >CCI</text>
<circle cx="496.1" cy="847.9" r="3.9" fill="#46a7b2" stroke="none" stroke-width="0"/>
<text x="516.1" y="852.8" font-size="14" font-weight="bold" fill="#231f20" text-anchor="start" stroke="#231f20" stroke-width="0.3" textLength="48.9" lengthAdjust="spacingAndGlyphs" >shRNA</text>
<circle cx="496.1" cy="867.2" r="3.9" fill="#ee3090" stroke="none" stroke-width="0"/>
<text x="516.1" y="872.1" font-size="14" font-weight="bold" fill="#231f20" text-anchor="start" stroke="#231f20" stroke-width="0.3" textLength="121.4" lengthAdjust="spacingAndGlyphs" >Scramble-shRNA</text>
<circle cx="491.9" cy="962.6" r="2.6" fill="none" stroke="#ee4e52" stroke-width="1.2"/>
<circle cx="491.9" cy="970.8" r="2.6" fill="none" stroke="#ee4e52" stroke-width="1.2"/>
<circle cx="494.5" cy="978.8" r="2.6" fill="none" stroke="#ee4e52" stroke-width="1.2"/>
<circle cx="490" cy="982.8" r="2.6" fill="none" stroke="#ee4e52" stroke-width="1.2"/>
<circle cx="490" cy="991.1" r="2.6" fill="none" stroke="#ee4e52" stroke-width="1.2"/>
<circle cx="495.1" cy="991.1" r="2.6" fill="none" stroke="#ee4e52" stroke-width="1.2"/>
<circle cx="505" cy="938.5" r="2.6" fill="none" stroke="#4aacb6" stroke-width="1.2"/>
<circle cx="510.9" cy="938.5" r="2.6" fill="none" stroke="#4aacb6" stroke-width="1.2"/>
<circle cx="508.7" cy="962.6" r="2.6" fill="none" stroke="#4aacb6" stroke-width="1.2"/>
<circle cx="508.7" cy="978.8" r="2.6" fill="none" stroke="#4aacb6" stroke-width="1.2"/>
<circle cx="507.2" cy="999.1" r="2.6" fill="none" stroke="#4aacb6" stroke-width="1.2"/>
<circle cx="513.4" cy="999.1" r="2.6" fill="none" stroke="#4aacb6" stroke-width="1.2"/>
<circle cx="508.7" cy="1015.2" r="2.6" fill="none" stroke="#4aacb6" stroke-width="1.2"/>
<circle cx="524.5" cy="950.7" r="2.6" fill="none" stroke="#e0409e" stroke-width="1.2"/>
<circle cx="524.5" cy="962.6" r="2.6" fill="none" stroke="#e0409e" stroke-width="1.2"/>
<circle cx="522.1" cy="974.7" r="2.6" fill="none" stroke="#e0409e" stroke-width="1.2"/>
<circle cx="526.9" cy="978.8" r="2.6" fill="none" stroke="#e0409e" stroke-width="1.2"/>
<circle cx="526.9" cy="991.1" r="2.6" fill="none" stroke="#e0409e" stroke-width="1.2"/>
<circle cx="521.8" cy="995.2" r="2.6" fill="none" stroke="#e0409e" stroke-width="1.2"/>
<circle cx="521.1" cy="999.1" r="2.6" fill="none" stroke="#e0409e" stroke-width="1.2"/>
<circle cx="526.2" cy="999.1" r="2.6" fill="none" stroke="#e0409e" stroke-width="1.2"/>
<circle cx="531.3" cy="999.1" r="2.6" fill="none" stroke="#e0409e" stroke-width="1.2"/>
<circle cx="524.5" cy="1015.2" r="2.6" fill="none" stroke="#e0409e" stroke-width="1.2"/>
<circle cx="524.5" cy="1027.3" r="2.6" fill="none" stroke="#e0409e" stroke-width="1.2"/>
<circle cx="622.3" cy="970.8" r="2.6" fill="none" stroke="#ee4e52" stroke-width="1.2"/>
<circle cx="621.7" cy="1023" r="2.6" fill="none" stroke="#ee4e52" stroke-width="1.2"/>
<circle cx="622.5" cy="1028" r="2.6" fill="none" stroke="#ee4e52" stroke-width="1.2"/>
<circle cx="622" cy="1037.6" r="2.6" fill="none" stroke="#ee4e52" stroke-width="1.2"/>
<circle cx="620" cy="1039.7" r="2.6" fill="none" stroke="#ee4e52" stroke-width="1.2"/>
<circle cx="627.1" cy="1040.2" r="2.6" fill="none" stroke="#ee4e52" stroke-width="1.2"/>
<circle cx="634.5" cy="898" r="2.6" fill="none" stroke="#4aacb6" stroke-width="1.2"/>
<circle cx="634.5" cy="938.3" r="2.6" fill="none" stroke="#4aacb6" stroke-width="1.2"/>
<circle cx="634.6" cy="962.4" r="2.6" fill="none" stroke="#4aacb6" stroke-width="1.2"/>
<circle cx="634.6" cy="970.9" r="2.6" fill="none" stroke="#4aacb6" stroke-width="1.2"/>
<circle cx="632" cy="982.8" r="2.6" fill="none" stroke="#4aacb6" stroke-width="1.2"/>
<circle cx="639.3" cy="982.8" r="2.6" fill="none" stroke="#4aacb6" stroke-width="1.2"/>
<circle cx="634.6" cy="1036" r="2.6" fill="none" stroke="#4aacb6" stroke-width="1.2"/>
<circle cx="651.8" cy="999" r="2.6" fill="none" stroke="#e0409e" stroke-width="1.2"/>
<circle cx="651.8" cy="1014.9" r="2.6" fill="none" stroke="#e0409e" stroke-width="1.2"/>
<circle cx="651.8" cy="1025.8" r="2.6" fill="none" stroke="#e0409e" stroke-width="1.2"/>
<circle cx="645.9" cy="1030.8" r="2.6" fill="none" stroke="#e0409e" stroke-width="1.2"/>
<circle cx="651.4" cy="1031.3" r="2.6" fill="none" stroke="#e0409e" stroke-width="1.2"/>
<circle cx="645.2" cy="1035" r="2.6" fill="none" stroke="#e0409e" stroke-width="1.2"/>
<circle cx="645.2" cy="1040.1" r="2.6" fill="none" stroke="#e0409e" stroke-width="1.2"/>
<circle cx="651.8" cy="1040.1" r="2.6" fill="none" stroke="#e0409e" stroke-width="1.2"/>
<circle cx="645" cy="1053.5" r="2.6" fill="none" stroke="#e0409e" stroke-width="1.2"/>
<circle cx="651.9" cy="1053.5" r="2.6" fill="none" stroke="#e0409e" stroke-width="1.2"/>
<circle cx="658.6" cy="1053.5" r="2.6" fill="none" stroke="#e0409e" stroke-width="1.2"/>
<line x1="535.4" y1="975.2" x2="613.1" y2="967.1" stroke="#222" stroke-width="1.1" stroke-linecap="butt"/>
<line x1="535.4" y1="979.1" x2="613.3" y2="1023" stroke="#222" stroke-width="1.1" stroke-linecap="butt"/>
<line x1="535.4" y1="990.1" x2="613.3" y2="1033.9" stroke="#222" stroke-width="1.1" stroke-linecap="butt"/>
<line x1="535.4" y1="963.8" x2="535.4" y2="987" stroke="#4aacb6" stroke-width="1.3" stroke-linecap="butt"/>
<line x1="532.1" y1="963.8" x2="538.7" y2="963.8" stroke="#4aacb6" stroke-width="1.3" stroke-linecap="butt"/>
<line x1="532.1" y1="987" x2="538.7" y2="987" stroke="#4aacb6" stroke-width="1.3" stroke-linecap="butt"/>
<line x1="535.4" y1="975.5" x2="535.4" y2="983.1" stroke="#ee3e44" stroke-width="1.3" stroke-linecap="butt"/>
<line x1="532.1" y1="975.5" x2="538.7" y2="975.5" stroke="#ee3e44" stroke-width="1.3" stroke-linecap="butt"/>
<line x1="532.1" y1="983.1" x2="538.7" y2="983.1" stroke="#ee3e44" stroke-width="1.3" stroke-linecap="butt"/>
<line x1="535.4" y1="987.2" x2="535.4" y2="996.2" stroke="#e83a98" stroke-width="1.3" stroke-linecap="butt"/>
<line x1="532.1" y1="987.2" x2="538.7" y2="987.2" stroke="#e83a98" stroke-width="1.3" stroke-linecap="butt"/>
<line x1="532.1" y1="996.2" x2="538.7" y2="996.2" stroke="#e83a98" stroke-width="1.3" stroke-linecap="butt"/>
<line x1="613.1" y1="951" x2="613.1" y2="983.4" stroke="#4aacb6" stroke-width="1.3" stroke-linecap="butt"/>
<line x1="609.8" y1="951" x2="616.4" y2="951" stroke="#4aacb6" stroke-width="1.3" stroke-linecap="butt"/>
<line x1="609.8" y1="983.4" x2="616.4" y2="983.4" stroke="#4aacb6" stroke-width="1.3" stroke-linecap="butt"/>
<line x1="613.3" y1="1012.4" x2="613.3" y2="1033" stroke="#ee3e44" stroke-width="1.3" stroke-linecap="butt"/>
<line x1="610" y1="1012.4" x2="616.6" y2="1012.4" stroke="#ee3e44" stroke-width="1.3" stroke-linecap="butt"/>
<line x1="610" y1="1033" x2="616.6" y2="1033" stroke="#ee3e44" stroke-width="1.3" stroke-linecap="butt"/>
<line x1="613.3" y1="1028.8" x2="613.3" y2="1038.9" stroke="#e83a98" stroke-width="1.3" stroke-linecap="butt"/>
<line x1="610" y1="1028.8" x2="616.6" y2="1028.8" stroke="#e83a98" stroke-width="1.3" stroke-linecap="butt"/>
<line x1="610" y1="1038.9" x2="616.6" y2="1038.9" stroke="#e83a98" stroke-width="1.3" stroke-linecap="butt"/>
<circle cx="535.4" cy="975.2" r="3.6" fill="#4aa5af" stroke="none" stroke-width="0"/>
<circle cx="535.4" cy="979.1" r="3.6" fill="#f2393f" stroke="none" stroke-width="0"/>
<circle cx="535.4" cy="990.1" r="3.6" fill="#f02c8e" stroke="none" stroke-width="0"/>
<circle cx="613.1" cy="967.1" r="3.6" fill="#4aa5af" stroke="none" stroke-width="0"/>
<circle cx="613.3" cy="1023" r="3.6" fill="#f2393f" stroke="none" stroke-width="0"/>
<circle cx="613.3" cy="1033.9" r="3.6" fill="#f02c8e" stroke="none" stroke-width="0"/>
<polyline points="657.3,963.2 666.3,963.2 666.3,1020 656.4,1020" fill="none" stroke="#000" stroke-width="1.7" stroke-linejoin="miter" stroke-linecap="butt"/>
<polyline points="657,1024.6 666.3,1024.6 666.3,1040.9 657,1040.9" fill="none" stroke="#000" stroke-width="1.7" stroke-linejoin="miter" stroke-linecap="butt"/>
<path d="M682.5,986.3L674.9,986.3M680.98,982.36L676.43,990.24M676.43,982.36L680.98,990.24" stroke="#000" stroke-width="1.95" stroke-linecap="round" fill="none"/>
<path d="M682.5,997.5L674.9,997.5M680.98,993.56L676.43,1001.44M676.43,993.56L680.98,1001.44" stroke="#000" stroke-width="1.95" stroke-linecap="round" fill="none"/>
<text transform="translate(675.2,1034) rotate(90)" font-size="14" font-weight="normal" fill="#231f20" text-anchor="middle" stroke="#231f20" stroke-width="0.3" >ns</text>
</svg></body></html>
